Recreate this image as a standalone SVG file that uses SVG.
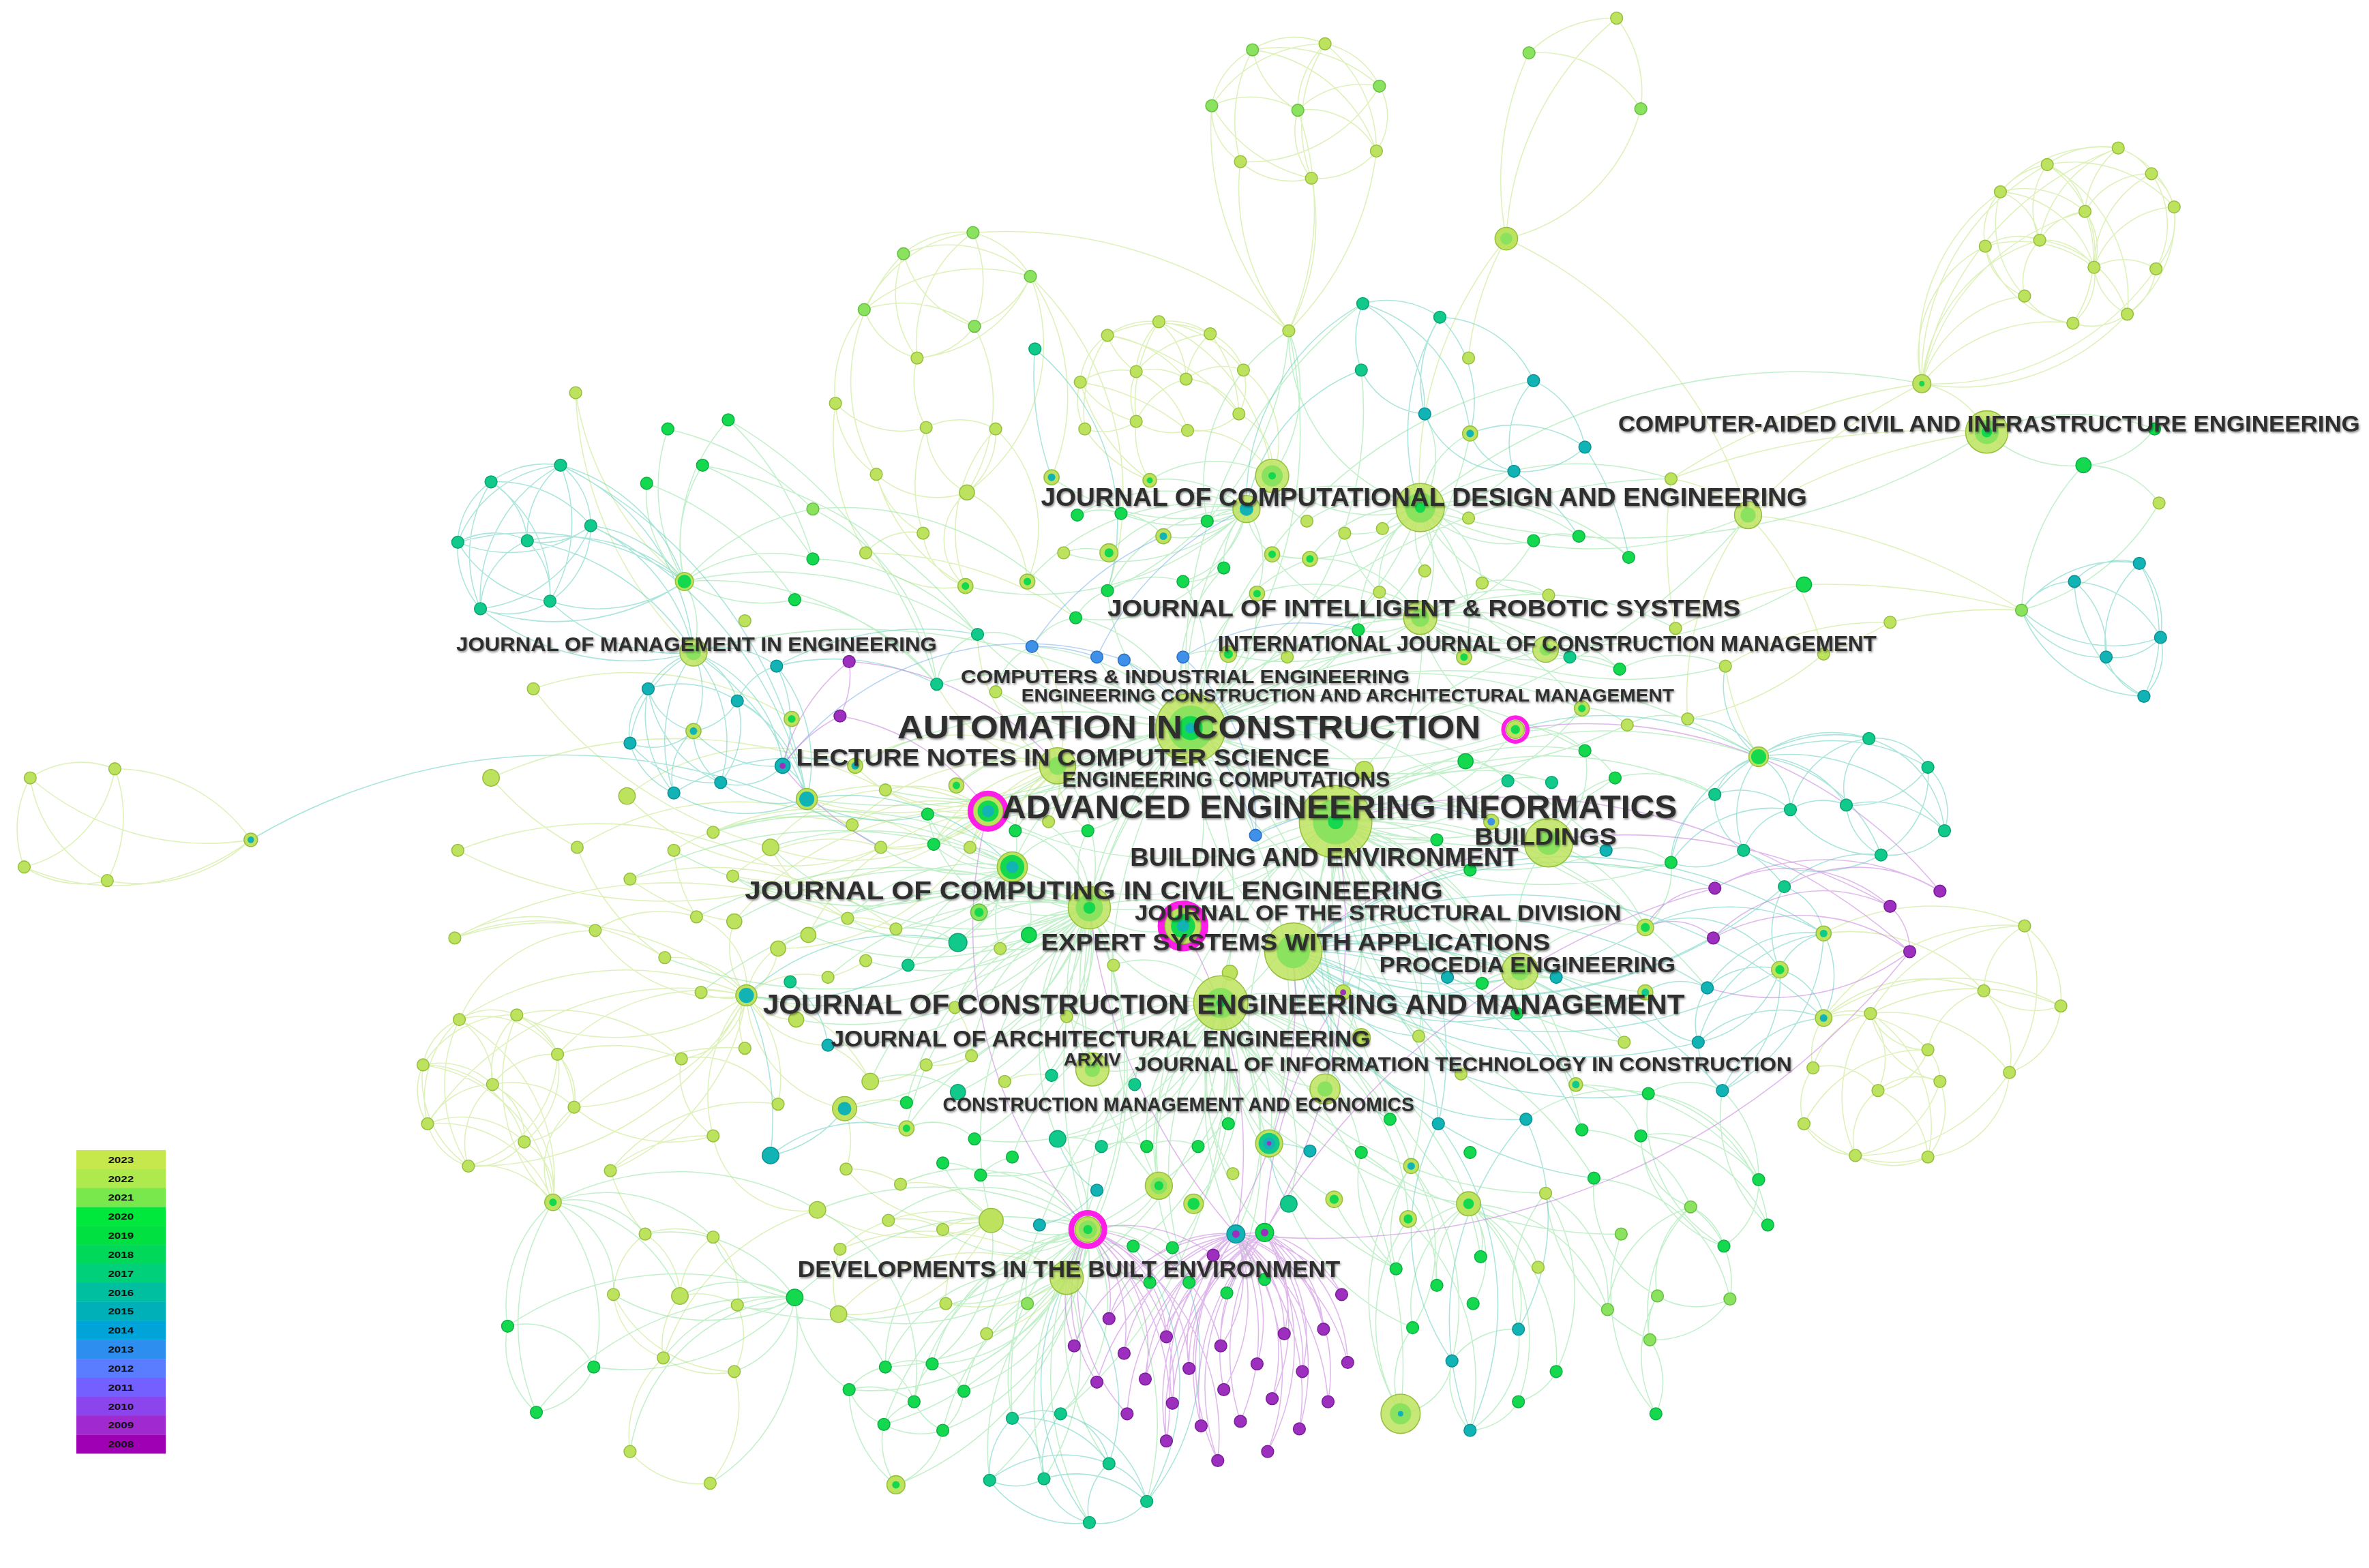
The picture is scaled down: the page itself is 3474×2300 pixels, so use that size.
<svg xmlns="http://www.w3.org/2000/svg" width="3474" height="2300" viewBox="0 0 3474 2300">
<defs>
<filter id="sh" x="-5%" y="-40%" width="110%" height="180%"><feDropShadow dx="0.6" dy="0.9" stdDeviation="0.7" flood-color="#000" flood-opacity="0.45"/></filter>
<style>
.e{fill:none;stroke-width:.7;stroke-opacity:.55}
.ey{stroke:#c3e682}
.eg{stroke:#8fe3a0}
.et{stroke:#66cfc0}
.eb{stroke:#7ab0ea}
.ep{stroke:#c77fdc}
circle{stroke-width:.7}
.y{fill:#bde35e;stroke:#98c03f}
.l{fill:#8ae25e;stroke:#66c042}
.g{fill:#14d94e;stroke:#0db246}
.t{fill:#11c98b;stroke:#0ca574}
.c{fill:#12b3b5;stroke:#0c9295}
.b{fill:#3e90e8;stroke:#2b72c4}
.p{fill:#9c2fbe;stroke:#7b1e99}
.m{fill:none;stroke:#ff1ee8}
.i{stroke:none}
.h{fill-opacity:.85}
.lb{font-family:"Liberation Sans",Arial,sans-serif;font-weight:bold;fill:#2e2e2e;filter:url(#sh)}
.lg{font-family:"Liberation Sans",Arial,sans-serif;font-weight:bold;fill:#111;font-size:6px;text-anchor:middle}
</style>
</defs>
<rect width="3474" height="2300" fill="#fff"/>
<g transform="scale(2.2156)">
<g id="edges">
<path class="e ey" d="M20 515A60 60 0 0 1 76 509M20 515A70 70 0 0 0 16 574M20 515A90 90 0 0 0 71 583M76 509A80 80 0 0 1 16 574M76 509A90 90 0 0 1 71 583M76 509A110 110 0 0 1 166 556M16 574A70 70 0 0 0 71 583M20 515A180 180 0 0 0 166 556M16 574A150 150 0 0 0 166 556M71 583A110 110 0 0 0 166 556M381 260A200 200 0 0 0 453 385M381 260A250 250 0 0 0 459 432
M644 154A60 60 0 0 0 598 168M644 154A60 60 0 0 1 682 183M644 154A90 90 0 0 0 572 205M644 154A80 80 0 0 1 645 216M644 154A90 90 0 0 0 607 237M598 168A70 70 0 0 0 645 216M598 168A80 80 0 0 1 682 183M598 168A70 70 0 0 0 607 237M682 183A60 60 0 0 1 645 216M682 183A90 90 0 0 1 607 237M572 205A80 80 0 0 1 645 216M572 205A50 50 0 0 0 607 237M572 205A120 120 0 0 1 682 183M645 216A50 50 0 0 1 607 237M572 205A80 80 0 0 0 553 267M598 168A120 120 0 0 0 580 314M682 183A120 120 0 0 1 640 326M682 183A140 140 0 0 1 696 316M645 216A110 110 0 0 1 640 326M607 237A60 60 0 0 0 613 283M553 267A60 60 0 0 0 613 283M553 267A60 60 0 0 0 580 314M613 283A50 50 0 0 1 659 284M613 283A50 50 0 0 0 640 326M659 284A50 50 0 0 1 640 326M580 314A60 60 0 0 0 640 326M580 314A60 60 0 0 0 611 353M611 353A40 40 0 0 0 639 388M573 366A70 70 0 0 0 639 388M573 366A40 40 0 0 1 611 353M640 326A70 70 0 0 1 680 385M640 326A40 40 0 0 0 639 388M659 284A90 90 0 0 1 680 385M553 267A150 150 0 0 0 573 366M613 283A100 100 0 0 0 611 353M659 284A100 100 0 0 0 639 388M580 314A120 120 0 0 0 639 388M644 154A300 300 0 0 1 853 219M682 183A200 200 0 0 1 733 391M573 366A250 250 0 0 1 712 409
M733 222A50 50 0 0 1 767 213M767 213A50 50 0 0 1 801 221M733 222A80 80 0 0 1 801 221M733 222A40 40 0 0 0 715 253M733 222A50 50 0 0 0 752 246M733 222A80 80 0 0 1 785 251M767 213A50 50 0 0 0 752 246M767 213A50 50 0 0 1 785 251M767 213A80 80 0 0 1 823 245M801 221A40 40 0 0 1 823 245M801 221A50 50 0 0 0 785 251M801 221A70 70 0 0 0 752 246M715 253A50 50 0 0 1 752 246M715 253A40 40 0 0 0 718 284M715 253A60 60 0 0 0 752 279M752 246A40 40 0 0 1 785 251M752 246A40 40 0 0 0 752 279M752 246A60 60 0 0 1 786 285M785 251A40 40 0 0 1 823 245M785 251A40 40 0 0 1 820 274M785 251A50 50 0 0 0 752 279M823 245A40 40 0 0 1 820 274M823 245A60 60 0 0 1 842 315M718 284A40 40 0 0 0 752 279M752 279A40 40 0 0 0 786 285M786 285A40 40 0 0 0 820 274M820 274A40 40 0 0 1 842 315M786 285A60 60 0 0 1 842 315M733 222A90 90 0 0 0 718 284M767 213A100 100 0 0 0 752 279M801 221A90 90 0 0 1 820 274M715 253A120 120 0 0 0 761 318M752 279A60 60 0 0 0 761 318M718 284A90 90 0 0 0 761 318M767 213A130 130 0 0 1 842 315M733 222A150 150 0 0 1 820 274M715 253A150 150 0 0 1 786 285
M829 33A50 50 0 0 1 877 29M829 33A50 50 0 0 0 802 70M829 33A60 60 0 0 0 859 73M829 33A100 100 0 0 0 821 107M829 33A100 100 0 0 1 911 100M829 33A100 100 0 0 1 913 57M877 29A50 50 0 0 1 913 57M877 29A60 60 0 0 0 859 73M877 29A90 90 0 0 0 802 70M877 29A90 90 0 0 1 911 100M877 29A100 100 0 0 0 868 118M913 57A40 40 0 0 1 911 100M913 57A60 60 0 0 0 859 73M913 57A100 100 0 0 1 821 107M802 70A60 60 0 0 1 859 73M802 70A40 40 0 0 0 821 107M802 70A100 100 0 0 0 868 118M859 73A50 50 0 0 1 911 100M859 73A50 50 0 0 0 868 118M821 107A50 50 0 0 0 868 118M911 100A50 50 0 0 1 868 118M802 70A200 200 0 0 0 853 219M821 107A150 150 0 0 0 853 219M868 118A150 150 0 0 1 853 219M911 100A200 200 0 0 1 853 219M859 73A200 200 0 0 1 853 219
M1070 12A80 80 0 0 0 1012 35M1070 12A80 80 0 0 1 1086 72M1012 35A80 80 0 0 1 1086 72M1012 35A200 200 0 0 0 997 158M1070 12A200 200 0 0 0 997 158M1086 72A120 120 0 0 1 997 158M997 158A200 200 0 0 0 972 237M997 158A300 300 0 0 1 1157 341M997 158A250 250 0 0 0 940 336
M1402 98A60 60 0 0 0 1355 109M1402 98A40 40 0 0 1 1424 115M1402 98A60 60 0 0 0 1380 140M1402 98A80 80 0 0 0 1350 159M1402 98A90 90 0 0 0 1324 127M1402 98A60 60 0 0 1 1439 137M1355 109A50 50 0 0 0 1324 127M1355 109A40 40 0 0 1 1380 140M1355 109A50 50 0 0 0 1350 159M1355 109A70 70 0 0 1 1386 177M1355 109A90 90 0 0 1 1439 137M1424 115A40 40 0 0 1 1439 137M1424 115A50 50 0 0 0 1380 140M1424 115A60 60 0 0 1 1427 178M1424 115A70 70 0 0 0 1386 177M1324 127A40 40 0 0 0 1314 163M1324 127A40 40 0 0 1 1350 159M1324 127A60 60 0 0 1 1380 140M1324 127A70 70 0 0 0 1340 196M1439 137A50 50 0 0 1 1427 178M1439 137A60 60 0 0 0 1386 177M1439 137A80 80 0 0 1 1408 208M1380 140A40 40 0 0 0 1350 159M1380 140A40 40 0 0 1 1386 177M1380 140A80 80 0 0 1 1372 214M1314 163A40 40 0 0 1 1350 159M1314 163A40 40 0 0 0 1340 196M1314 163A70 70 0 0 0 1372 214M1350 159A40 40 0 0 1 1386 177M1350 159A40 40 0 0 0 1340 196M1350 159A70 70 0 0 1 1408 208M1386 177A40 40 0 0 1 1427 178M1386 177A40 40 0 0 1 1372 214M1386 177A40 40 0 0 0 1408 208M1427 178A40 40 0 0 1 1408 208M1340 196A40 40 0 0 0 1372 214M1408 208A40 40 0 0 1 1372 214M1314 163A80 80 0 0 1 1386 177M1324 127A70 70 0 0 1 1386 177M1355 109A100 100 0 0 1 1408 208M1272 254A80 80 0 0 1 1314 163M1272 254A80 80 0 0 1 1340 196M1272 254A110 110 0 0 1 1372 214M1272 254A130 130 0 0 1 1324 127M1272 254A110 110 0 0 1 1350 159M1272 254A150 150 0 0 0 1408 208M1272 254A160 160 0 0 1 1355 109M1272 254A150 150 0 0 1 1380 140M1272 254A180 180 0 0 0 1427 178M1272 254A200 200 0 0 1 1402 98
M1315 286A400 400 0 0 0 1157 341M1315 286A500 500 0 0 0 1106 317M1272 254A60 60 0 0 1 1315 286M1272 254A400 400 0 0 0 1106 317M1272 254A400 400 0 0 0 1157 341M1338 404A400 400 0 0 0 1157 341M1338 404A300 300 0 0 0 1251 412M1338 404A500 500 0 0 0 1194 387M1194 387A300 300 0 0 0 1109 416M1251 412A200 200 0 0 0 1142 441M1251 412A300 300 0 0 1 1207 433M1207 433A200 200 0 0 1 1117 476M1142 441A150 150 0 0 0 1164 501M1106 317A300 300 0 0 0 1109 416M1157 341A200 200 0 0 1 1207 433M1157 341A200 200 0 0 0 1117 476M1106 317A100 100 0 0 1 1157 341
M1340 613A50 50 0 0 0 1313 656M1340 613A60 60 0 0 1 1364 666M1340 613A100 100 0 0 1 1330 710M1340 613A150 150 0 0 0 1207 674M1340 613A120 120 0 0 0 1238 671M1313 656A50 50 0 0 0 1364 666M1313 656A60 60 0 0 1 1330 710M1313 656A50 50 0 0 0 1276 695M1364 666A50 50 0 0 1 1330 710M1364 666A150 150 0 0 0 1238 671M1238 671A40 40 0 0 0 1276 695M1238 671A60 60 0 0 0 1284 716M1238 671A50 50 0 0 0 1200 707M1238 671A50 50 0 0 1 1243 722M1238 671A90 90 0 0 0 1228 765M1238 671A90 90 0 0 1 1276 766M1276 695A30 30 0 0 1 1284 716M1276 695A90 90 0 0 0 1194 744M1276 695A40 40 0 0 1 1243 722M1284 716A50 50 0 0 1 1276 766M1284 716A40 40 0 0 0 1243 722M1284 716A70 70 0 0 1 1228 765M1200 707A40 40 0 0 0 1194 744M1200 707A40 40 0 0 1 1243 722M1194 744A40 40 0 0 0 1228 765M1194 744A80 80 0 0 0 1276 766M1243 722A40 40 0 0 0 1228 765M1228 765A50 50 0 0 0 1276 766M1243 722A50 50 0 0 1 1276 766M1207 674A40 40 0 0 1 1238 671M1207 674A40 40 0 0 0 1200 707M1207 674A70 70 0 0 1 1276 695M1207 674A100 100 0 0 1 1313 656M1207 674A150 150 0 0 1 1364 666M1330 710A120 120 0 0 1 1228 765M1330 710A60 60 0 0 1 1276 766M1238 671A100 100 0 0 1 1330 710M1207 618A120 120 0 0 1 1313 656M1207 618A150 150 0 0 1 1340 613
M304 675A40 40 0 0 1 342 672M304 675A60 60 0 0 1 369 698M304 675A40 40 0 0 0 280 705M304 675A50 50 0 0 1 326 718M304 675A70 70 0 0 0 283 744M342 672A40 40 0 0 1 369 698M342 672A50 50 0 0 0 326 718M342 672A70 70 0 0 1 380 733M342 672A70 70 0 0 0 280 705M369 698A50 50 0 0 0 326 718M369 698A40 40 0 0 1 380 733M369 698A60 60 0 0 1 347 756M280 705A50 50 0 0 1 326 718M280 705A40 40 0 0 0 283 744M280 705A70 70 0 0 0 310 772M326 718A50 50 0 0 0 283 744M326 718A60 60 0 0 1 380 733M326 718A40 40 0 0 1 347 756M326 718A50 50 0 0 0 310 772M283 744A40 40 0 0 0 310 772M283 744A60 60 0 0 1 347 756M347 756A40 40 0 0 1 310 772M380 733A40 40 0 0 1 347 756M369 698A80 80 0 0 1 310 772M304 675A100 100 0 0 0 310 772M280 705A70 70 0 0 1 347 756M366 796A120 120 0 0 0 304 675M366 796A110 110 0 0 1 342 672M366 796A100 100 0 0 0 280 705M366 796A80 80 0 0 0 283 744M366 796A60 60 0 0 0 310 772M366 796A40 40 0 0 0 347 756M366 796A80 80 0 0 0 326 718M366 796A50 50 0 0 1 380 733
M494 659A200 200 0 0 0 304 675M494 659A150 150 0 0 1 342 672M494 659A130 130 0 0 0 369 698M494 659A130 130 0 0 1 380 733M494 659A200 200 0 0 0 301 621M494 659A100 100 0 0 1 394 616M494 659A50 50 0 0 0 461 607M494 659A50 50 0 0 1 486 610M494 659A40 40 0 0 0 515 628M494 659A50 50 0 0 1 535 619M494 659A60 60 0 0 0 440 634M494 659A40 40 0 0 1 464 657M494 659A40 40 0 0 0 527 675M494 659A50 50 0 0 1 451 701M494 659A40 40 0 0 0 493 694M494 659A80 80 0 0 1 515 731M494 659A100 100 0 0 0 472 752M494 659A150 150 0 0 1 404 775M494 659A200 200 0 0 1 310 772M494 659A200 200 0 0 0 283 744M494 659A60 60 0 0 1 548 647M494 659A60 60 0 0 0 548 692M494 659A100 100 0 0 1 576 716M494 659A80 80 0 0 0 559 734M301 621A100 100 0 0 1 394 616M394 616A80 80 0 0 1 461 607M301 621A150 150 0 0 1 440 634M304 675A100 100 0 0 1 394 616M342 672A120 120 0 0 1 451 701M369 698A120 120 0 0 1 451 701M380 733A100 100 0 0 0 472 752M404 775A100 100 0 0 1 472 752M404 775A120 120 0 0 1 515 731M380 733A150 150 0 0 1 493 694M451 701A50 50 0 0 0 472 752M451 701A60 60 0 0 1 515 731M472 752A60 60 0 0 0 541 801M404 775A120 120 0 0 0 427 817M427 817A50 50 0 0 0 406 857M427 817A50 50 0 0 1 450 858M472 819A50 50 0 0 0 450 858M472 819A50 50 0 0 1 488 864M406 857A50 50 0 0 0 439 899M406 857A90 90 0 0 0 486 908M450 858A50 50 0 0 0 439 899M450 858A50 50 0 0 1 488 864M488 864A50 50 0 0 1 486 908M439 899A60 60 0 0 0 486 908M439 899A70 70 0 0 0 417 961M486 908A80 80 0 0 1 470 982M417 961A60 60 0 0 0 470 982M427 817A60 60 0 0 1 472 819M541 801A150 150 0 0 0 439 899M301 621A300 300 0 0 1 561 608
M325 515A300 300 0 0 1 586 523M325 515A200 200 0 0 0 382 561M415 527A150 150 0 0 1 566 507M415 527A150 150 0 0 0 583 561M382 561A200 200 0 0 1 564 546M303 563A250 250 0 0 1 561 608M303 563A300 300 0 0 0 583 561M446 563A150 150 0 0 1 564 546M417 582A200 200 0 0 1 593 615M485 580A100 100 0 0 1 583 561M510 561A100 100 0 0 1 586 523M510 561A100 100 0 0 0 593 615M472 551A150 150 0 0 1 618 559M353 456A200 200 0 0 1 524 476M353 456A300 300 0 0 0 510 561M417 582A150 150 0 0 0 486 610M446 563A100 100 0 0 0 461 607M382 561A150 150 0 0 0 440 634
M700 507A60 60 0 0 0 633 520M700 507A100 100 0 0 1 586 523M700 507A120 120 0 0 0 566 507M700 507A100 100 0 0 1 620 453M700 507A60 60 0 0 0 659 458M700 507A100 100 0 0 1 647 420M700 507A80 80 0 0 0 683 428M700 507A80 80 0 0 1 614 539M700 507A50 50 0 0 0 672 550M700 507A50 50 0 0 1 694 544M700 507A50 50 0 0 0 720 550M700 507A100 100 0 0 0 618 559M700 507A150 150 0 0 1 583 561M700 507A80 80 0 0 0 642 561M700 507A200 200 0 0 1 534 529M700 507A150 150 0 0 0 564 546M654 537A80 80 0 0 0 586 523M654 537A100 100 0 0 1 566 507M654 537A100 100 0 0 0 564 546M654 537A80 80 0 0 1 583 561M654 537A50 50 0 0 0 618 559M654 537A50 50 0 0 1 642 561M654 537A150 150 0 0 0 534 529M654 537A150 150 0 0 1 510 561M654 537A200 200 0 0 1 485 580M654 537A150 150 0 0 0 535 619M654 537A150 150 0 0 1 515 628M654 537A200 200 0 0 0 486 610
M656 808A100 100 0 0 0 556 827M656 808A100 100 0 0 1 560 774M656 808A60 60 0 0 0 596 784M656 808A60 60 0 0 1 588 808M656 808A40 40 0 0 0 624 814M656 808A100 100 0 0 1 555 870M656 808A60 60 0 0 0 626 863M656 808A120 120 0 0 1 541 801M706 846A120 120 0 0 0 555 870M706 846A100 100 0 0 1 626 863M706 846A150 150 0 0 0 556 827M706 846A80 80 0 0 1 653 883M559 734A60 60 0 0 1 600 730M559 734A60 60 0 0 0 600 747M559 734A60 60 0 0 1 560 774M576 716A60 60 0 0 0 613 705M548 692A60 60 0 0 1 576 716M548 647A80 80 0 0 0 573 636M561 608A50 50 0 0 1 593 615M632 667A50 50 0 0 1 643 699M613 705A50 50 0 0 0 643 699M665 716A50 50 0 0 1 696 712M560 774A60 60 0 0 1 596 784M588 808A50 50 0 0 1 624 814M556 827A60 60 0 0 0 555 870"/>
<path class="e eg" d="M442 284A120 120 0 0 0 453 385M482 278A120 120 0 0 0 453 385M465 308A100 100 0 0 0 453 385M428 320A80 80 0 0 0 453 385M482 278A200 200 0 0 1 538 370M442 284A200 200 0 0 1 538 337M465 308A150 150 0 0 1 538 370M428 320A200 200 0 0 1 526 397M482 278A300 300 0 0 1 620 453M465 308A300 300 0 0 1 647 420M453 385A150 150 0 0 1 538 337M453 385A100 100 0 0 1 538 370M453 385A100 100 0 0 0 526 397M453 385A200 200 0 0 1 620 453M453 385A250 250 0 0 1 647 420M538 337A150 150 0 0 1 620 453M538 370A150 150 0 0 1 647 420M526 397A150 150 0 0 1 620 453M538 337A200 200 0 0 1 712 409M453 385A60 60 0 0 1 459 432
M788 482A300 300 0 0 0 654 537M788 482A150 150 0 0 1 700 507M788 482A200 200 0 0 1 884 544M788 482A300 300 0 0 0 1025 558M788 482A200 200 0 0 1 940 409M788 482A250 250 0 0 0 940 336M788 482A200 200 0 0 1 842 315M788 482A200 200 0 0 0 721 601M788 482A200 200 0 0 1 783 613M788 482A200 200 0 0 0 856 630M788 482A250 250 0 0 1 808 664M788 482A300 300 0 0 0 1003 483M788 482A300 300 0 0 1 1023 430M788 482A80 80 0 0 0 813 433M788 482A100 100 0 0 1 852 435M788 482A150 150 0 0 0 899 417M788 482A100 100 0 0 1 726 435M788 482A80 80 0 0 0 744 437M788 482A80 80 0 0 1 783 435M788 482A150 150 0 0 0 683 428M788 482A200 200 0 0 1 647 420M788 482A200 200 0 0 0 620 453M788 482A150 150 0 0 1 659 458M788 482A200 200 0 0 0 633 520M788 482A250 250 0 0 1 586 523M788 482A300 300 0 0 0 566 507M788 482A400 400 0 0 1 534 529M788 482A400 400 0 0 0 459 432M788 482A300 300 0 0 1 1049 497M788 482A200 200 0 0 0 970 504M788 482A300 300 0 0 1 1047 469M788 482A350 350 0 0 0 1077 480M788 482A350 350 0 0 1 1072 443M788 482A100 100 0 0 0 712 409M788 482A120 120 0 0 1 733 391M788 482A100 100 0 0 0 783 385M788 482A100 100 0 0 1 810 376M788 482A100 100 0 0 0 832 393M788 482A120 120 0 0 1 867 370M788 482A150 150 0 0 0 672 550M788 482A100 100 0 0 1 720 550M788 482A150 150 0 0 0 670 574M788 482A200 200 0 0 1 614 539M788 482A400 400 0 0 0 1157 341M788 482A400 400 0 0 1 1106 317M788 482A250 250 0 0 0 973 287M788 482A300 300 0 0 1 1015 252M788 482A250 250 0 0 0 901 245M788 482A300 300 0 0 1 902 201M788 482A300 300 0 0 0 853 219M788 482A400 400 0 0 1 1164 501M788 482A250 250 0 0 0 723 708M788 482A250 250 0 0 1 877 721M788 482A300 300 0 0 0 767 785M788 482A300 300 0 0 1 840 757M788 482A350 350 0 0 0 720 814M788 482A300 300 0 0 1 1063 563M788 482A300 300 0 0 0 1006 643M788 482A200 200 0 0 1 987 544M788 482A200 200 0 0 0 951 556M788 482A120 120 0 0 1 903 510
M884 544A250 250 0 0 1 654 537M884 544A200 200 0 0 0 700 507M884 544A150 150 0 0 1 1025 558M884 544A150 150 0 0 0 1003 483M884 544A100 100 0 0 1 970 504M884 544A120 120 0 0 0 998 517M884 544A150 150 0 0 1 1027 518M884 544A200 200 0 0 0 1069 515M884 544A200 200 0 0 1 1049 497M884 544A200 200 0 0 0 1063 563M884 544A100 100 0 0 1 973 576M884 544A80 80 0 0 0 951 556M884 544A100 100 0 0 1 987 544M884 544A60 60 0 0 0 831 553M884 544A200 200 0 0 1 721 601M884 544A120 120 0 0 0 783 613M884 544A100 100 0 0 1 856 630M884 544A150 150 0 0 0 808 664M884 544A100 100 0 0 1 889 657M884 544A120 120 0 0 0 958 647M884 544A120 120 0 0 1 981 651M884 544A150 150 0 0 0 1030 647M884 544A150 150 0 0 1 1004 671M884 544A150 150 0 0 0 901 687M884 544A150 150 0 0 1 939 686M884 544A250 250 0 0 0 1075 690M884 544A200 200 0 0 1 877 721M884 544A200 200 0 0 0 967 711M884 544A250 250 0 0 1 1043 718M884 544A200 200 0 0 0 920 741M884 544A250 250 0 0 0 1010 741M884 544A300 300 0 0 1 1047 748M884 544A200 200 0 0 0 840 757M884 544A250 250 0 0 1 934 772M884 544A300 300 0 0 0 972 797M884 544A250 250 0 0 1 1089 614M884 544A300 300 0 0 0 1089 657M884 544A300 300 0 0 1 1130 654M884 544A300 300 0 0 1 1164 501M884 544A250 250 0 0 0 1106 571M884 544A250 250 0 0 1 1135 526M884 544A150 150 0 0 0 940 409M884 544A200 200 0 0 1 1023 430M884 544A200 200 0 0 0 1047 469M884 544A200 200 0 0 1 670 574M884 544A250 250 0 0 0 618 559M884 544A200 200 0 0 1 723 708M884 544A250 250 0 0 0 767 785M884 544A300 300 0 0 1 720 814
M721 601A60 60 0 0 0 654 537M721 601A50 50 0 0 1 670 574M721 601A60 60 0 0 0 648 604M721 601A150 150 0 0 1 561 608M721 601A120 120 0 0 0 593 615M721 601A50 50 0 0 1 681 619M721 601A80 80 0 0 0 634 624M721 601A150 150 0 0 1 573 636M721 601A120 120 0 0 0 601 639M721 601A60 60 0 0 1 662 628M721 601A200 200 0 0 0 548 647M721 601A50 50 0 0 1 737 639M721 601A100 100 0 0 0 632 667M721 601A200 200 0 0 1 548 692M721 601A200 200 0 0 0 576 716M721 601A150 150 0 0 1 613 705M721 601A120 120 0 0 0 643 699M721 601A120 120 0 0 1 665 716M721 601A100 100 0 0 0 696 712M721 601A80 80 0 0 1 706 673M721 601A100 100 0 0 0 723 708M721 601A200 200 0 0 1 559 734M721 601A180 180 0 0 0 600 730M721 601A150 150 0 0 1 634 723M721 601A200 200 0 0 0 600 747M721 601A150 150 0 0 1 645 754M721 601A150 150 0 0 0 700 754M721 601A250 250 0 0 1 494 659M721 601A250 250 0 0 0 515 628M721 601A200 200 0 0 1 535 619M721 601A250 250 0 0 0 486 610M721 601A200 200 0 0 1 527 675M721 601A300 300 0 0 0 464 657M721 601A300 300 0 0 1 440 634M721 601A300 300 0 0 0 461 607M721 601A200 200 0 0 1 510 561M721 601A250 250 0 0 0 472 551M721 601A250 250 0 0 1 485 580M721 601A100 100 0 0 0 700 507M721 601A80 80 0 0 1 614 539M721 601A60 60 0 0 0 672 550M721 601A50 50 0 0 1 720 550M721 601A100 100 0 0 0 808 664M721 601A150 150 0 0 1 856 630M721 601A60 60 0 0 0 783 613M721 601A250 250 0 0 1 720 814M721 601A200 200 0 0 0 656 808M721 601A250 250 0 0 1 706 846M721 601A200 200 0 0 0 767 785
M808 664A80 80 0 0 1 723 708M808 664A60 60 0 0 0 751 718M808 664A100 100 0 0 1 729 759M808 664A100 100 0 0 0 759 759M808 664A100 100 0 0 1 793 759M808 664A80 80 0 0 0 813 744M808 664A100 100 0 0 1 840 757M808 664A100 100 0 0 0 867 762M808 664A120 120 0 0 1 901 763M808 664A80 80 0 0 0 877 721M808 664A80 80 0 0 1 901 687M808 664A80 80 0 0 0 889 657M808 664A60 60 0 0 1 814 644M808 664A60 60 0 0 0 737 639M808 664A80 80 0 0 1 706 673M808 664A120 120 0 0 0 696 712M808 664A120 120 0 0 1 700 754M808 664A120 120 0 0 0 767 785M808 664A120 120 0 0 1 790 797M808 664A120 120 0 0 0 816 777M808 664A120 120 0 0 1 853 797M808 664A150 150 0 0 0 883 794M808 664A150 150 0 0 1 934 772M808 664A200 200 0 0 0 972 797M808 664A150 150 0 0 1 932 807M808 664A150 150 0 0 0 720 814M808 664A150 150 0 0 1 818 817M808 664A150 150 0 0 0 837 816M808 664A150 150 0 0 1 750 825M808 664A150 150 0 0 0 776 826M808 664A200 200 0 0 1 761 849M808 664A200 200 0 0 0 787 849M808 664A200 200 0 0 1 812 856M808 664A200 200 0 0 0 837 847M808 664A200 200 0 0 1 706 846M808 664A250 250 0 0 0 1023 790M808 664A250 250 0 0 1 1055 780M808 664A300 300 0 0 0 1073 817M808 664A200 200 0 0 1 980 832M808 664A200 200 0 0 0 924 840M808 664A300 300 0 0 1 927 936M808 664A300 300 0 0 0 670 939M808 664A300 300 0 0 1 702 936M808 664A200 200 0 0 0 600 747M808 664A150 150 0 0 1 645 754M808 664A150 150 0 0 0 670 766M808 664A150 150 0 0 1 649 778
M670 574A60 60 0 0 1 618 559M670 574A40 40 0 0 0 642 561M670 574A100 100 0 0 1 583 561M670 574A120 120 0 0 0 561 608M670 574A100 100 0 0 1 593 615M670 574A100 100 0 0 0 601 639M670 574A80 80 0 0 1 634 624M670 574A50 50 0 0 0 648 604M670 574A50 50 0 0 1 681 619M670 574A60 60 0 0 0 662 628M670 574A60 60 0 0 1 614 539M670 574A40 40 0 0 0 672 550M670 574A60 60 0 0 1 720 550M670 574A200 200 0 0 0 510 561M670 574A200 200 0 0 1 485 580M670 574A300 300 0 0 0 417 582M670 574A250 250 0 0 1 446 563M670 574A250 250 0 0 0 472 551
M940 336A80 80 0 0 0 865 345M940 336A60 60 0 0 1 890 353M940 336A40 40 0 0 0 915 350M940 336A40 40 0 0 1 972 343M940 336A50 50 0 0 0 943 378M940 336A60 60 0 0 1 981 386M940 336A80 80 0 0 0 1015 358M940 336A120 120 0 0 1 1045 355M940 336A60 60 0 0 0 913 392M940 336A80 80 0 0 1 940 409M940 336A100 100 0 0 0 1025 394M940 336A100 100 0 0 1 842 315M940 336A120 120 0 0 0 825 337M940 336A100 100 0 0 1 842 367M940 336A80 80 0 0 0 867 370M940 336A120 120 0 0 1 853 219M940 336A80 80 0 0 0 1002 312M940 336A60 60 0 0 1 973 287M940 336A60 60 0 0 0 943 274M940 336A150 150 0 0 1 1078 369M940 336A100 100 0 0 0 899 417M940 336A100 100 0 0 1 969 435M940 336A120 120 0 0 0 1023 430M940 336A200 200 0 0 1 1106 317M940 336A250 250 0 0 0 1157 341M940 336A400 400 0 0 1 1272 254M940 336A450 450 0 0 0 1315 286
M940 409A100 100 0 0 0 852 435M940 409A50 50 0 0 1 899 417M940 409A40 40 0 0 0 969 435M940 409A100 100 0 0 1 1023 430M940 409A120 120 0 0 0 1039 435M940 409A150 150 0 0 1 1072 443M940 409A40 40 0 0 0 913 392M940 409A40 40 0 0 1 943 378M940 409A50 50 0 0 0 981 386M940 409A100 100 0 0 1 1025 394M940 409A100 100 0 0 0 1015 358M940 409A80 80 0 0 1 890 353M940 409A80 80 0 0 0 867 370M940 409A100 100 0 0 1 842 367M940 409A120 120 0 0 0 832 393M940 409A150 150 0 0 1 813 433M940 409A100 100 0 0 0 1003 483M940 409A150 150 0 0 1 1047 469M940 409A300 300 0 0 0 1194 387M940 409A200 200 0 0 1 1109 416M940 409A250 250 0 0 0 1142 441
M825 337A120 120 0 0 0 713 341M825 337A100 100 0 0 1 742 340M825 337A40 40 0 0 0 799 345M825 337A60 60 0 0 1 770 355M825 337A100 100 0 0 0 734 366M825 337A120 120 0 0 1 704 366M825 337A50 50 0 0 0 810 376M825 337A60 60 0 0 1 783 385M825 337A100 100 0 0 0 733 391M825 337A60 60 0 0 1 832 393M825 337A40 40 0 0 0 842 367M825 337A100 100 0 0 1 712 409M825 337A80 80 0 0 0 761 318M825 337A150 150 0 0 1 696 316M825 337A150 150 0 0 0 680 385M825 337A200 200 0 0 1 639 388M842 315A80 80 0 0 0 761 318M842 315A40 40 0 0 1 799 345M842 315A40 40 0 0 0 865 345M853 219A100 100 0 0 1 842 315M853 219A120 120 0 0 0 799 345M853 219A200 200 0 0 1 733 391
M713 341A40 40 0 0 1 742 340M742 340A40 40 0 0 1 770 355M704 366A40 40 0 0 1 734 366M733 391A60 60 0 0 1 783 385M712 409A40 40 0 0 1 733 391M810 376A40 40 0 0 1 783 385M647 420A40 40 0 0 1 683 428M683 428A40 40 0 0 1 712 409M620 453A40 40 0 0 1 647 420M659 458A40 40 0 0 1 683 428M783 435A40 40 0 0 1 813 433M813 433A40 40 0 0 1 852 435M852 435A50 50 0 0 1 899 417M899 417A40 40 0 0 1 913 392M1015 358A40 40 0 0 1 1045 355M1045 355A40 40 0 0 1 1078 369M981 386A50 50 0 0 1 1025 394M1023 430A40 40 0 0 1 1039 435M1039 435A40 40 0 0 1 1072 443M1047 469A40 40 0 0 1 1077 480M1049 497A40 40 0 0 1 1069 515M998 517A40 40 0 0 1 1027 518M970 504A40 40 0 0 1 998 517M1003 483A50 50 0 0 1 1049 497M1003 483A50 50 0 0 0 1047 469M1025 558A50 50 0 0 1 1063 563M1025 558A50 50 0 0 0 973 576M1025 558A40 40 0 0 1 987 544M1025 558A60 60 0 0 0 1049 497M1025 558A60 60 0 0 1 1069 515M1025 558A100 100 0 0 0 1106 571M1025 558A100 100 0 0 1 1089 614M1025 558A100 100 0 0 0 1006 643M1006 643A50 50 0 0 1 958 647M1006 643A40 40 0 0 0 1030 647M1006 643A40 40 0 0 1 1004 671M1006 643A40 40 0 0 0 981 651M1006 643A80 80 0 0 1 1089 614M1006 643A80 80 0 0 0 1089 657M1006 643A90 90 0 0 1 1075 690M1072 443A80 80 0 0 1 1142 441M1077 480A50 50 0 0 1 1117 476M1069 515A80 80 0 0 1 1135 526M1063 563A50 50 0 0 1 1106 571M1106 571A50 50 0 0 1 1089 614
M1315 286A150 150 0 0 1 1426 284M1315 286A80 80 0 0 0 1379 308M1379 308A60 60 0 0 1 1429 333M1379 308A60 60 0 0 0 1426 284M1379 308A150 150 0 0 0 1338 404M1429 333A150 150 0 0 1 1338 404
M720 814A100 100 0 0 0 596 784M720 814A80 80 0 0 1 624 770M720 814A60 60 0 0 0 649 778M720 814A50 50 0 0 1 656 808M720 814A30 30 0 0 0 688 811M720 814A80 80 0 0 1 624 814M720 814A100 100 0 0 0 588 808M720 814A100 100 0 0 1 626 863M720 814A40 40 0 0 0 680 863M720 814A30 30 0 0 1 706 846M720 814A80 80 0 0 0 653 883M720 814A150 150 0 0 1 586 905M720 814A120 120 0 0 0 617 903M720 814A150 150 0 0 1 562 920M720 814A150 150 0 0 0 605 928M720 814A120 120 0 0 1 638 921M720 814A200 200 0 0 0 585 943M720 814A150 150 0 0 1 624 947M720 814A120 120 0 0 0 670 939M720 814A100 100 0 0 1 702 936M720 814A150 150 0 0 0 734 969M720 814A200 200 0 0 1 655 980M720 814A200 200 0 0 0 691 979M720 814A200 200 0 0 1 759 994M720 814A200 200 0 0 0 721 1008M720 814A200 200 0 0 1 593 983M720 814A40 40 0 0 0 750 825M720 814A60 60 0 0 1 776 826M720 814A50 50 0 0 0 761 849M720 814A80 80 0 0 1 787 849M720 814A200 200 0 0 0 526 859M720 814A250 250 0 0 1 488 864M720 814A200 200 0 0 0 541 801M720 814A150 150 0 0 1 555 870M720 814A50 50 0 0 0 767 785M720 814A40 40 0 0 1 726 788M720 814A80 80 0 0 0 700 754M706 846A100 100 0 0 0 586 905M706 846A100 100 0 0 1 617 903M706 846A100 100 0 0 0 638 921M706 846A150 150 0 0 1 562 920M706 846A150 150 0 0 0 624 947M706 846A200 200 0 0 1 585 943M706 846A150 150 0 0 0 655 980M706 846A150 150 0 0 1 691 979
M600 747A40 40 0 0 1 645 754M700 754A40 40 0 0 1 729 759M729 759A40 40 0 0 1 759 759M759 759A40 40 0 0 1 793 759M624 770A40 40 0 0 1 649 778M649 778A40 40 0 0 1 670 766M593 615A60 60 0 0 1 634 624M601 639A50 50 0 0 0 634 624M576 716A60 60 0 0 1 634 723
M586 905A40 40 0 0 1 617 903M586 905A40 40 0 0 0 562 920M586 905A40 40 0 0 1 605 928M617 903A40 40 0 0 1 638 921M617 903A40 40 0 0 0 605 928M562 920A40 40 0 0 0 585 943M605 928A40 40 0 0 0 624 947M638 921A40 40 0 0 1 624 947M585 943A50 50 0 0 0 624 947M562 920A50 50 0 0 1 605 928M605 928A40 40 0 0 0 585 943M585 943A50 50 0 0 0 593 983M624 947A50 50 0 0 1 593 983M562 920A80 80 0 0 0 593 983M656 808A100 100 0 0 0 586 905M656 808A100 100 0 0 1 617 903M526 859A80 80 0 0 1 586 905M526 859A80 80 0 0 0 562 920M541 801A120 120 0 0 1 605 928
M366 796A90 90 0 0 0 336 878M366 796A120 120 0 0 1 393 905M366 796A150 150 0 0 0 355 935M366 796A60 60 0 0 1 406 857M366 796A100 100 0 0 1 450 858M366 796A60 60 0 0 1 427 817M366 796A100 100 0 0 1 472 819M366 796A180 180 0 0 1 541 801M526 859A200 200 0 0 0 336 878M526 859A150 150 0 0 1 393 905M526 859A200 200 0 0 0 355 935M526 859A120 120 0 0 1 406 857M526 859A100 100 0 0 0 439 899M526 859A60 60 0 0 1 486 908M526 859A120 120 0 0 0 417 961M526 859A120 120 0 0 1 470 982M526 859A80 80 0 0 0 450 858M526 859A40 40 0 0 1 488 864M526 859A100 100 0 0 0 427 817M526 859A60 60 0 0 1 472 819M336 878A50 50 0 0 1 393 905M336 878A60 60 0 0 0 355 935M393 905A50 50 0 0 1 355 935
M972 797A80 80 0 0 0 935 879M972 797A80 80 0 0 1 1005 880M972 797A120 120 0 0 1 1030 908M972 797A120 120 0 0 1 1005 928M972 797A60 60 0 0 0 951 851M972 797A60 60 0 0 1 975 863M972 797A60 60 0 0 0 924 840M972 797A40 40 0 0 1 980 832M972 797A60 60 0 0 1 1018 839M972 797A100 100 0 0 1 1064 867M934 772A80 80 0 0 0 924 840M934 772A100 100 0 0 1 935 879M934 772A150 150 0 0 1 961 901M934 772A150 150 0 0 0 927 936M901 763A80 80 0 0 0 924 840M901 763A100 100 0 0 1 951 851M1023 790A100 100 0 0 0 1005 880M1023 790A120 120 0 0 1 1030 908M1023 790A80 80 0 0 1 1064 867M932 807A120 120 0 0 0 927 936M932 807A150 150 0 0 1 973 947M1005 880A50 50 0 0 0 961 901M961 901A50 50 0 0 0 973 947M961 901A40 40 0 0 1 927 936M1005 880A70 70 0 0 1 973 947M1030 908A40 40 0 0 1 1005 928M935 879A60 60 0 0 0 927 936M1005 928A40 40 0 0 1 973 947M883 794A100 100 0 0 0 924 840M853 797A150 150 0 0 0 935 879
M1091 724A90 90 0 0 1 1164 781M1091 724A100 100 0 0 1 1170 811M1091 724A100 100 0 0 0 1141 825M1086 752A80 80 0 0 1 1164 781M1086 752A100 100 0 0 1 1170 811M1086 752A80 80 0 0 0 1141 825M1086 752A50 50 0 0 0 1119 799M1119 799A60 60 0 0 0 1097 858M1119 799A60 60 0 0 1 1145 860M1119 799A100 100 0 0 0 1092 887M1097 858A50 50 0 0 0 1145 860M1145 860A60 60 0 0 1 1092 887M1097 858A40 40 0 0 0 1092 887M1119 799A40 40 0 0 1 1141 825M1092 887A50 50 0 0 1 1096 936M1097 858A80 80 0 0 0 1096 936M1164 781A50 50 0 0 1 1141 825M1140 722A50 50 0 0 0 1091 724M1043 718A50 50 0 0 1 1086 752M1043 718A150 150 0 0 1 1164 781M1010 741A100 100 0 0 1 1091 724M1047 748A80 80 0 0 1 1119 799M1055 780A80 80 0 0 0 1097 858M1055 780A100 100 0 0 1 1145 860M1023 790A120 120 0 0 0 1092 887M1073 817A120 120 0 0 0 1096 936M1064 867A80 80 0 0 1 1119 799M1140 722A80 80 0 0 1 1164 781M1140 722A100 100 0 0 0 1170 811"/>
<path class="e et" d="M166 556A400 400 0 0 1 583 561
M371 308A60 60 0 0 0 325 319M371 308A50 50 0 0 1 391 348M371 308A60 60 0 0 0 349 358M371 308A80 80 0 0 0 303 359M371 308A100 100 0 0 1 364 398M371 308A100 100 0 0 0 318 403M325 319A80 80 0 0 1 391 348M325 319A50 50 0 0 1 349 358M325 319A50 50 0 0 0 303 359M325 319A90 90 0 0 1 364 398M325 319A90 90 0 0 0 318 403M391 348A50 50 0 0 1 349 358M391 348A90 90 0 0 1 303 359M391 348A60 60 0 0 1 364 398M391 348A90 90 0 0 1 318 403M349 358A50 50 0 0 0 303 359M349 358A50 50 0 0 1 364 398M349 358A50 50 0 0 0 318 403M303 359A80 80 0 0 0 364 398M303 359A60 60 0 0 0 318 403M364 398A50 50 0 0 1 318 403M371 308A120 120 0 0 1 453 385M391 348A90 90 0 0 1 453 385M349 358A120 120 0 0 1 453 385M364 398A100 100 0 0 0 453 385M318 403A150 150 0 0 0 453 385M303 359A180 180 0 0 1 453 385M371 308A150 150 0 0 1 459 432M391 348A120 120 0 0 1 459 432M364 398A120 120 0 0 0 459 432M318 403A160 160 0 0 0 459 432M349 358A160 160 0 0 1 459 432M459 432A200 200 0 0 1 534 529M371 308A300 300 0 0 1 534 529M391 348A260 260 0 0 1 534 529
M459 432A60 60 0 0 1 514 441M459 432A50 50 0 0 0 429 456M459 432A50 50 0 0 1 488 464M459 432A60 60 0 0 1 459 484M459 432A80 80 0 0 0 417 492M459 432A90 90 0 0 1 477 518M459 432A100 100 0 0 0 446 525M459 432A90 90 0 0 1 518 507M514 441A40 40 0 0 0 488 464M514 441A100 100 0 0 1 534 529M514 441A80 80 0 0 1 518 507M429 456A40 40 0 0 0 459 484M429 456A40 40 0 0 0 417 492M429 456A70 70 0 0 1 488 464M429 456A80 80 0 0 0 477 518M429 456A80 80 0 0 0 446 525M488 464A40 40 0 0 1 459 484M488 464A50 50 0 0 1 518 507M488 464A60 60 0 0 1 477 518M488 464A90 90 0 0 1 534 529M459 484A40 40 0 0 1 417 492M459 484A40 40 0 0 0 477 518M459 484A40 40 0 0 0 446 525M459 484A70 70 0 0 0 518 507M417 492A50 50 0 0 0 446 525M417 492A70 70 0 0 0 477 518M518 507A30 30 0 0 1 534 529M477 518A40 40 0 0 0 518 507M446 525A90 90 0 0 0 534 529M477 518A60 60 0 0 0 534 529M514 441A150 150 0 0 1 620 453M514 441A200 200 0 0 1 647 420M446 525A150 150 0 0 1 566 507M534 529A100 100 0 0 0 614 539M534 529A150 150 0 0 1 670 574M523 650A60 60 0 0 1 548 692M510 765A80 80 0 0 0 559 734M510 765A100 100 0 0 1 600 747M510 765A200 200 0 0 0 494 659M494 659A150 150 0 0 1 634 624M494 659A150 150 0 0 0 601 639
M902 201A60 60 0 0 1 953 210M902 201A60 60 0 0 0 901 245M902 201A80 80 0 0 1 943 274M902 201A100 100 0 0 1 973 287M953 210A80 80 0 0 0 943 274M953 210A80 80 0 0 1 973 287M953 210A70 70 0 0 1 1015 252M901 245A50 50 0 0 0 943 274M1015 252A60 60 0 0 1 1049 296M1015 252A60 60 0 0 0 1002 312M943 274A60 60 0 0 0 1002 312M973 287A80 80 0 0 1 1049 296M973 287A40 40 0 0 0 1002 312M1049 296A60 60 0 0 1 1002 312M902 201A150 150 0 0 0 825 337M953 210A150 150 0 0 0 940 336M901 245A120 120 0 0 0 825 337M1049 296A200 200 0 0 1 1078 369M1002 312A150 150 0 0 1 1045 355M685 231A150 150 0 0 1 733 391M685 231A200 200 0 0 0 696 316
M1338 404A40 40 0 0 1 1373 385M1338 404A80 80 0 0 1 1416 373M1338 404A90 90 0 0 0 1430 422M1338 404A60 60 0 0 0 1394 435M1338 404A90 90 0 0 0 1419 461M1373 385A60 60 0 0 1 1394 435M1373 385A70 70 0 0 1 1430 422M1373 385A90 90 0 0 0 1419 461M1416 373A60 60 0 0 1 1430 422M1416 373A70 70 0 0 0 1394 435M1416 373A90 90 0 0 1 1419 461M1430 422A40 40 0 0 1 1394 435M1430 422A40 40 0 0 1 1419 461M1394 435A40 40 0 0 0 1419 461M1373 385A40 40 0 0 1 1416 373
M1164 501A80 80 0 0 1 1237 489M1164 501A120 120 0 0 1 1276 508M1164 501A40 40 0 0 0 1135 526M1164 501A40 40 0 0 1 1185 536M1164 501A70 70 0 0 1 1222 533M1164 501A130 130 0 0 1 1287 550M1164 501A60 60 0 0 0 1154 563M1164 501A100 100 0 0 1 1245 566M1164 501A90 90 0 0 0 1106 571M1164 501A60 60 0 0 1 1142 441M1164 501A50 50 0 0 0 1117 476M1237 489A40 40 0 0 1 1276 508M1237 489A40 40 0 0 0 1222 533M1237 489A70 70 0 0 1 1287 550M1237 489A60 60 0 0 0 1185 536M1276 508A60 60 0 0 1 1222 533M1276 508A40 40 0 0 1 1287 550M1276 508A60 60 0 0 1 1245 566M1135 526A50 50 0 0 1 1185 536M1135 526A40 40 0 0 0 1154 563M1135 526A50 50 0 0 0 1106 571M1185 536A40 40 0 0 1 1222 533M1185 536A40 40 0 0 0 1154 563M1185 536A70 70 0 0 0 1245 566M1222 533A40 40 0 0 0 1245 566M1222 533A70 70 0 0 1 1287 550M1287 550A50 50 0 0 1 1245 566M1154 563A90 90 0 0 0 1245 566M1154 563A50 50 0 0 1 1106 571M1185 536A80 80 0 0 0 1106 571M1237 489A100 100 0 0 0 1135 526M1164 501A200 200 0 0 0 1003 483M1181 587A80 80 0 0 0 1154 563M1181 587A80 80 0 0 1 1245 566
M1207 618A40 40 0 0 0 1178 642M1207 618A80 80 0 0 0 1130 654M1207 618A100 100 0 0 0 1124 690M1207 618A120 120 0 0 1 1140 722M1207 618A120 120 0 0 0 1089 614M1178 642A50 50 0 0 0 1130 654M1178 642A70 70 0 0 1 1124 690M1178 642A90 90 0 0 1 1140 722M1178 642A40 40 0 0 1 1207 674M1130 654A40 40 0 0 0 1124 690M1124 690A40 40 0 0 0 1140 722M1089 657A40 40 0 0 1 1130 654M1089 657A40 40 0 0 0 1124 690M1140 722A80 80 0 0 1 1207 674M1181 587A40 40 0 0 1 1207 618M1181 587A60 60 0 0 0 1178 642M1207 674A80 80 0 0 0 1124 690M1089 614A70 70 0 0 1 1178 642M1207 618A60 60 0 0 1 1207 674
M856 630A100 100 0 0 1 958 647M856 630A120 120 0 0 0 981 651M856 630A200 200 0 0 1 1030 647M856 630A150 150 0 0 0 1004 671M856 630A250 250 0 0 1 1075 690M856 630A250 250 0 0 0 1089 614M856 630A300 300 0 0 1 1135 588M856 630A300 300 0 0 0 1181 587M856 630A300 300 0 0 0 1134 621M856 630A300 300 0 0 1 1207 618M856 630A300 300 0 0 0 1178 642M856 630A300 300 0 0 1 1130 654M856 630A250 250 0 0 0 1089 657M856 630A300 300 0 0 1 1207 674M856 630A300 300 0 0 0 1124 690M856 630A300 300 0 0 1 1140 722M856 630A250 250 0 0 0 1091 724M856 630A200 200 0 0 1 1043 718M856 630A150 150 0 0 0 1010 741M856 630A200 200 0 0 1 1047 748M856 630A250 250 0 0 0 1055 780M856 630A150 150 0 0 1 967 711M856 630A100 100 0 0 0 939 686M856 630A100 100 0 0 1 877 721M856 630A120 120 0 0 0 920 741M856 630A120 120 0 0 1 952 744M884 544A200 200 0 0 1 952 744
M670 939A40 40 0 0 1 702 936M670 939A50 50 0 0 0 655 980M670 939A50 50 0 0 1 691 979M670 939A70 70 0 0 1 734 969M702 936A40 40 0 0 1 734 969M702 936A50 50 0 0 0 691 979M702 936A80 80 0 0 1 759 994M734 969A40 40 0 0 1 759 994M734 969A40 40 0 0 0 721 1008M655 980A40 40 0 0 0 691 979M691 979A40 40 0 0 0 721 1008M655 980A70 70 0 0 0 721 1008M691 979A70 70 0 0 1 759 994M759 994A40 40 0 0 1 721 1008M655 980A80 80 0 0 1 734 969M706 846A120 120 0 0 1 734 969M706 846A150 150 0 0 0 721 1008M750 825A150 150 0 0 1 759 994M776 826A150 150 0 0 1 759 994M952 744A150 150 0 0 0 961 901M1010 741A150 150 0 0 1 1005 880M952 744A200 200 0 0 1 973 947M1010 741A200 200 0 0 0 973 947M726 788A60 60 0 0 1 700 754M688 811A60 60 0 0 0 726 788M840 757A60 60 0 0 1 867 762M840 757A80 80 0 0 0 853 797"/>
<path class="e eb" d="M831 553A200 200 0 0 1 987 544M831 553A150 150 0 0 0 783 435M744 437A200 200 0 0 1 831 553M683 428A200 200 0 0 1 770 355M726 435A200 200 0 0 1 825 337M518 507A200 200 0 0 1 744 437M726 435A120 120 0 0 0 683 428M783 435A150 150 0 0 1 899 417"/>
<path class="e ep" d="M818 817A100 100 0 0 1 888 857M818 817A80 80 0 0 0 734 873M818 817A80 80 0 0 1 876 880M818 817A120 120 0 0 0 711 891M818 817A80 80 0 0 0 772 885M818 817A80 80 0 0 1 808 891M818 817A80 80 0 0 1 850 883M818 817A100 100 0 0 0 744 896M818 817A120 120 0 0 1 892 902M818 817A100 100 0 0 0 787 906M818 817A100 100 0 0 1 832 903M818 817A100 100 0 0 1 862 908M818 817A150 150 0 0 0 726 915M818 817A120 120 0 0 0 758 913M818 817A120 120 0 0 1 810 920M818 817A120 120 0 0 1 842 926M818 817A150 150 0 0 1 879 928M818 817A120 120 0 0 0 776 929M818 817A150 150 0 0 0 746 936M818 817A150 150 0 0 1 821 941M818 817A150 150 0 0 0 795 944M818 817A150 150 0 0 1 860 946M818 817A150 150 0 0 0 772 954M818 817A150 150 0 0 1 839 961M818 817A150 150 0 0 0 806 967
M837 816A80 80 0 0 1 888 857M837 816A120 120 0 0 0 734 873M837 816A80 80 0 0 1 876 880M837 816A100 100 0 0 0 772 885M837 816A100 100 0 0 0 808 891M837 816A80 80 0 0 1 850 883M837 816A100 100 0 0 1 892 902M837 816A100 100 0 0 0 787 906M837 816A100 100 0 0 1 862 908M837 816A150 150 0 0 0 758 913M837 816A120 120 0 0 0 810 920M837 816A120 120 0 0 1 842 926M837 816A120 120 0 0 1 879 928M837 816A150 150 0 0 0 776 929M837 816A150 150 0 0 0 795 944M837 816A150 150 0 0 1 860 946M837 816A150 150 0 0 0 821 941M837 816A150 150 0 0 1 839 961M837 816A150 150 0 0 0 806 967M837 816A150 150 0 0 0 772 954
M720 814A80 80 0 0 1 734 873M720 814A80 80 0 0 0 711 891M720 814A100 100 0 0 1 744 896M720 814A100 100 0 0 0 726 915M720 814A100 100 0 0 1 758 913M720 814A120 120 0 0 0 746 936M720 814A150 150 0 0 1 772 954M720 814A120 120 0 0 1 776 929M720 814A100 100 0 0 1 787 906M720 814A80 80 0 0 1 772 885M720 814A100 100 0 0 1 808 891M720 814A150 150 0 0 1 806 967M720 814A100 100 0 0 1 803 831
M818 817A300 300 0 0 0 783 613M837 816A300 300 0 0 1 889 657M818 817A400 400 0 0 1 721 601M837 816A400 400 0 0 0 884 544M720 814A300 300 0 0 1 654 537M803 831A300 300 0 0 0 856 630M837 816A500 500 0 0 1 1135 588M818 817A500 500 0 0 0 1264 630
M1135 588A150 150 0 0 1 1284 590M1135 588A100 100 0 0 1 1251 600M1134 621A120 120 0 0 1 1264 630M1134 621A100 100 0 0 1 1251 600M1251 600A40 40 0 0 1 1264 630M1089 614A40 40 0 0 1 1134 621M1135 588A50 50 0 0 0 1089 614M1003 483A300 300 0 0 1 1284 590M884 544A400 400 0 0 1 1264 630M856 630A350 350 0 0 1 1251 600M1181 587A100 100 0 0 1 1284 590M1130 654A150 150 0 0 0 1264 630
M562 438A60 60 0 0 1 556 474M556 474A100 100 0 0 0 518 507M562 438A120 120 0 0 0 518 507M556 474A150 150 0 0 1 654 537M562 438A200 200 0 0 1 700 507M518 507A200 200 0 0 0 583 561"/>
</g>
<g id="nodes">
<g id="n1"><circle class="y" cx="20" cy="515" r="4"/></g>
<g id="n2"><circle class="y" cx="76" cy="509" r="4"/></g>
<g id="n3"><circle class="y" cx="16" cy="574" r="4"/></g>
<g id="n4"><circle class="y" cx="71" cy="583" r="4"/></g>
<g id="n5"><circle class="y" cx="166" cy="556" r="4.5"/><circle class="c i" cx="166" cy="556" r="2.2"/></g>
<g id="n6"><circle class="t" cx="371" cy="308" r="4"/></g>
<g id="n7"><circle class="t" cx="325" cy="319" r="4"/></g>
<g id="n8"><circle class="t" cx="391" cy="348" r="4"/></g>
<g id="n9"><circle class="t" cx="349" cy="358" r="4"/></g>
<g id="n10"><circle class="t" cx="303" cy="359" r="4"/></g>
<g id="n11"><circle class="t" cx="364" cy="398" r="4"/></g>
<g id="n12"><circle class="t" cx="318" cy="403" r="4"/></g>
<g id="n13"><circle class="y" cx="453" cy="385" r="6"/><circle class="g i" cx="453" cy="385" r="4.5"/></g>
<g id="n14"><circle class="g" cx="442" cy="284" r="4"/></g>
<g id="n15"><circle class="g" cx="482" cy="278" r="4"/></g>
<g id="n16"><circle class="g" cx="465" cy="308" r="4"/></g>
<g id="n17"><circle class="g" cx="428" cy="320" r="4"/></g>
<g id="n18"><circle class="y" cx="381" cy="260" r="4"/></g>
<g id="n19"><circle class="l" cx="538" cy="337" r="4"/></g>
<g id="n20"><circle class="g" cx="538" cy="370" r="4"/></g>
<g id="n21"><circle class="g" cx="526" cy="397" r="4"/></g>
<g id="n22"><circle class="y" cx="493" cy="411" r="4"/></g>
<g id="n23"><circle class="y h" cx="459" cy="432" r="9"/><circle class="l i" cx="459" cy="432" r="5"/></g>
<g id="n24"><circle class="c" cx="514" cy="441" r="4"/></g>
<g id="n25"><circle class="c" cx="429" cy="456" r="4"/></g>
<g id="n26"><circle class="c" cx="488" cy="464" r="4"/></g>
<g id="n27"><circle class="y" cx="353" cy="456" r="4"/></g>
<g id="n28"><circle class="y" cx="524" cy="476" r="5"/><circle class="g i" cx="524" cy="476" r="2.5"/></g>
<g id="n29"><circle class="y" cx="459" cy="484" r="5"/><circle class="c i" cx="459" cy="484" r="2.5"/></g>
<g id="n30"><circle class="c" cx="417" cy="492" r="4"/></g>
<g id="n31"><circle class="c" cx="518" cy="507" r="5"/><circle class="p i" cx="518" cy="507" r="2"/></g>
<g id="n32"><circle class="c" cx="477" cy="518" r="4"/></g>
<g id="n33"><circle class="c" cx="446" cy="525" r="4"/></g>
<g id="n34"><circle class="y" cx="534" cy="529" r="7"/><circle class="c i" cx="534" cy="529" r="5"/></g>
<g id="n35"><circle class="y" cx="325" cy="515" r="5.5"/></g>
<g id="n36"><circle class="y" cx="415" cy="527" r="5.5"/></g>
<g id="n37"><circle class="y" cx="472" cy="551" r="4"/></g>
<g id="n38"><circle class="y" cx="510" cy="561" r="5.5"/></g>
<g id="n39"><circle class="y" cx="446" cy="563" r="4"/></g>
<g id="n40"><circle class="y" cx="382" cy="561" r="4"/></g>
<g id="n41"><circle class="y" cx="303" cy="563" r="4"/></g>
<g id="n42"><circle class="y" cx="485" cy="580" r="4"/></g>
<g id="n43"><circle class="y" cx="417" cy="582" r="4"/></g>
<g id="n44"><circle class="l" cx="644" cy="154" r="4"/></g>
<g id="n45"><circle class="l" cx="598" cy="168" r="4"/></g>
<g id="n46"><circle class="l" cx="682" cy="183" r="4"/></g>
<g id="n47"><circle class="l" cx="572" cy="205" r="4"/></g>
<g id="n48"><circle class="l" cx="645" cy="216" r="4"/></g>
<g id="n49"><circle class="y" cx="607" cy="237" r="4"/></g>
<g id="n50"><circle class="y" cx="553" cy="267" r="4"/></g>
<g id="n51"><circle class="y" cx="613" cy="283" r="4"/></g>
<g id="n52"><circle class="y" cx="659" cy="284" r="4"/></g>
<g id="n53"><circle class="y" cx="580" cy="314" r="4"/></g>
<g id="n54"><circle class="y" cx="640" cy="326" r="5"/></g>
<g id="n55"><circle class="y" cx="611" cy="353" r="4"/></g>
<g id="n56"><circle class="y" cx="573" cy="366" r="4"/></g>
<g id="n57"><circle class="y" cx="639" cy="388" r="5"/><circle class="g i" cx="639" cy="388" r="2.5"/></g>
<g id="n58"><circle class="y" cx="680" cy="385" r="5"/><circle class="g i" cx="680" cy="385" r="2.5"/></g>
<g id="n59"><circle class="y" cx="696" cy="316" r="5"/><circle class="c i" cx="696" cy="316" r="2.5"/></g>
<g id="n60"><circle class="y" cx="761" cy="318" r="4.5"/><circle class="g i" cx="761" cy="318" r="2"/></g>
<g id="n61"><circle class="t" cx="685" cy="231" r="4"/></g>
<g id="n62"><circle class="y" cx="733" cy="222" r="4"/></g>
<g id="n63"><circle class="y" cx="767" cy="213" r="4"/></g>
<g id="n64"><circle class="y" cx="801" cy="221" r="4"/></g>
<g id="n65"><circle class="y" cx="715" cy="253" r="4"/></g>
<g id="n66"><circle class="y" cx="752" cy="246" r="4"/></g>
<g id="n67"><circle class="y" cx="785" cy="251" r="4"/></g>
<g id="n68"><circle class="y" cx="823" cy="245" r="4"/></g>
<g id="n69"><circle class="y" cx="718" cy="284" r="4"/></g>
<g id="n70"><circle class="y" cx="752" cy="279" r="4"/></g>
<g id="n71"><circle class="y" cx="786" cy="285" r="4"/></g>
<g id="n72"><circle class="y" cx="820" cy="274" r="4"/></g>
<g id="n73"><circle class="y h" cx="842" cy="315" r="11"/><circle class="l i" cx="842" cy="315" r="7"/><circle class="g i" cx="842" cy="315" r="2.5"/></g>
<g id="n74"><circle class="y" cx="853" cy="219" r="4"/></g>
<g id="n75"><circle class="l" cx="829" cy="33" r="4"/></g>
<g id="n76"><circle class="y" cx="877" cy="29" r="4"/></g>
<g id="n77"><circle class="l" cx="913" cy="57" r="4"/></g>
<g id="n78"><circle class="l" cx="802" cy="70" r="4"/></g>
<g id="n79"><circle class="l" cx="859" cy="73" r="4"/></g>
<g id="n80"><circle class="y" cx="911" cy="100" r="4"/></g>
<g id="n81"><circle class="y" cx="821" cy="107" r="4"/></g>
<g id="n82"><circle class="y" cx="868" cy="118" r="4"/></g>
<g id="n83"><circle class="y" cx="1070" cy="12" r="4"/></g>
<g id="n84"><circle class="l" cx="1012" cy="35" r="4"/></g>
<g id="n85"><circle class="l" cx="1086" cy="72" r="4"/></g>
<g id="n86"><circle class="y" cx="997" cy="158" r="7.5"/><circle class="l i" cx="997" cy="158" r="4"/></g>
<g id="n87"><circle class="t" cx="902" cy="201" r="4"/></g>
<g id="n88"><circle class="t" cx="953" cy="210" r="4"/></g>
<g id="n89"><circle class="t" cx="901" cy="245" r="4"/></g>
<g id="n90"><circle class="y" cx="972" cy="237" r="4"/></g>
<g id="n91"><circle class="c" cx="1015" cy="252" r="4"/></g>
<g id="n92"><circle class="c" cx="943" cy="274" r="4"/></g>
<g id="n93"><circle class="y" cx="973" cy="287" r="5"/><circle class="c i" cx="973" cy="287" r="2.5"/></g>
<g id="n94"><circle class="c" cx="1049" cy="296" r="4"/></g>
<g id="n95"><circle class="c" cx="1002" cy="312" r="4"/></g>
<g id="n96"><circle class="y h" cx="825" cy="337" r="9"/><circle class="c i" cx="825" cy="337" r="4.5"/></g>
<g id="n97"><circle class="y h" cx="940" cy="336" r="16"/><circle class="l i" cx="940" cy="336" r="10"/><circle class="g i" cx="940" cy="336" r="3.5"/></g>
<g id="n98"><circle class="g" cx="713" cy="341" r="4"/></g>
<g id="n99"><circle class="g" cx="742" cy="340" r="4"/></g>
<g id="n100"><circle class="g" cx="799" cy="345" r="4"/></g>
<g id="n101"><circle class="y" cx="865" cy="345" r="4"/></g>
<g id="n102"><circle class="y" cx="890" cy="353" r="4"/></g>
<g id="n103"><circle class="y" cx="915" cy="350" r="4"/></g>
<g id="n104"><circle class="y" cx="972" cy="343" r="4"/></g>
<g id="n105"><circle class="y" cx="770" cy="355" r="5"/><circle class="c i" cx="770" cy="355" r="2.5"/></g>
<g id="n106"><circle class="y" cx="734" cy="366" r="6"/><circle class="g i" cx="734" cy="366" r="3"/></g>
<g id="n107"><circle class="y" cx="704" cy="366" r="4"/></g>
<g id="n108"><circle class="y" cx="842" cy="367" r="5"/><circle class="g i" cx="842" cy="367" r="2.5"/></g>
<g id="n109"><circle class="y" cx="867" cy="370" r="5"/><circle class="g i" cx="867" cy="370" r="2.5"/></g>
<g id="n110"><circle class="g" cx="810" cy="376" r="4"/></g>
<g id="n111"><circle class="g" cx="783" cy="385" r="4"/></g>
<g id="n112"><circle class="g" cx="733" cy="391" r="4"/></g>
<g id="n113"><circle class="y" cx="832" cy="393" r="5"/><circle class="g i" cx="832" cy="393" r="2.5"/></g>
<g id="n114"><circle class="y" cx="943" cy="378" r="4"/></g>
<g id="n115"><circle class="y" cx="981" cy="386" r="4"/></g>
<g id="n116"><circle class="g" cx="1015" cy="358" r="4"/></g>
<g id="n117"><circle class="g" cx="1045" cy="355" r="4"/></g>
<g id="n118"><circle class="g" cx="1078" cy="369" r="4"/></g>
<g id="n119"><circle class="g" cx="712" cy="409" r="4"/></g>
<g id="n120"><circle class="y h" cx="940" cy="409" r="11"/><circle class="l i" cx="940" cy="409" r="6"/></g>
<g id="n121"><circle class="y" cx="913" cy="392" r="4"/></g>
<g id="n122"><circle class="y" cx="1025" cy="394" r="4"/></g>
<g id="n123"><circle class="t" cx="647" cy="420" r="4"/></g>
<g id="n124"><circle class="b" cx="683" cy="428" r="4"/></g>
<g id="n125"><circle class="b" cx="726" cy="435" r="4"/></g>
<g id="n126"><circle class="b" cx="744" cy="437" r="4"/></g>
<g id="n127"><circle class="b" cx="783" cy="435" r="4"/></g>
<g id="n128"><circle class="y" cx="813" cy="433" r="5.5"/><circle class="g i" cx="813" cy="433" r="3"/></g>
<g id="n129"><circle class="y" cx="852" cy="435" r="4"/></g>
<g id="n130"><circle class="g" cx="899" cy="417" r="4"/></g>
<g id="n131"><circle class="y" cx="969" cy="435" r="5"/><circle class="g i" cx="969" cy="435" r="2.5"/></g>
<g id="n132"><circle class="y h" cx="1023" cy="430" r="8.5"/><circle class="l i" cx="1023" cy="430" r="4"/></g>
<g id="n133"><circle class="t" cx="1039" cy="435" r="4"/></g>
<g id="n134"><circle class="g" cx="1072" cy="443" r="4"/></g>
<g id="n135"><circle class="p" cx="562" cy="438" r="4"/></g>
<g id="n136"><circle class="p" cx="556" cy="474" r="4"/></g>
<g id="n137"><circle class="t" cx="620" cy="453" r="4"/></g>
<g id="n138"><circle class="y" cx="659" cy="458" r="4"/></g>
<g id="n139"><circle class="y" cx="1047" cy="469" r="5"/><circle class="g i" cx="1047" cy="469" r="2.5"/></g>
<g id="n140"><circle class="y" cx="1077" cy="480" r="4"/></g>
<g id="n141"><circle class="y" cx="1003" cy="483" r="6"/><circle class="g i" cx="1003" cy="483" r="3"/><circle class="m" cx="1003" cy="483" r="8" style="stroke-width:2.8"/></g>
<g id="n142"><circle class="g" cx="1049" cy="497" r="4"/></g>
<g id="n143"><circle class="g" cx="970" cy="504" r="5"/></g>
<g id="n144"><circle class="t" cx="998" cy="517" r="4"/></g>
<g id="n145"><circle class="t" cx="1027" cy="518" r="4"/></g>
<g id="n146"><circle class="g" cx="1069" cy="515" r="4"/></g>
<g id="n147"><circle class="y h" cx="788" cy="482" r="23"/><circle class="l i" cx="788" cy="482" r="15"/><circle class="g i" cx="788" cy="482" r="8"/><circle class="c i" cx="788" cy="482" r="3.5"/></g>
<g id="n148"><circle class="y h" cx="700" cy="507" r="12"/><circle class="l i" cx="700" cy="507" r="6"/></g>
<g id="n149"><circle class="y" cx="633" cy="520" r="5"/><circle class="g i" cx="633" cy="520" r="2.5"/></g>
<g id="n150"><circle class="y" cx="586" cy="523" r="4"/></g>
<g id="n151"><circle class="y" cx="566" cy="507" r="5"/><circle class="c i" cx="566" cy="507" r="2.5"/></g>
<g id="n152"><circle class="y" cx="654" cy="537" r="10"/><circle class="g i" cx="654" cy="537" r="7"/><circle class="c i" cx="654" cy="537" r="4"/><circle class="m" cx="654" cy="537" r="11.8" style="stroke-width:3.6"/></g>
<g id="n153"><circle class="g" cx="614" cy="539" r="4"/></g>
<g id="n154"><circle class="y" cx="564" cy="546" r="4"/></g>
<g id="n155"><circle class="g" cx="672" cy="550" r="4"/></g>
<g id="n156"><circle class="y" cx="694" cy="544" r="4"/></g>
<g id="n157"><circle class="g" cx="720" cy="550" r="4"/></g>
<g id="n158"><circle class="y h" cx="884" cy="544" r="24"/><circle class="l i" cx="884" cy="544" r="15"/><circle class="g i" cx="884" cy="544" r="5"/></g>
<g id="n159"><circle class="b" cx="831" cy="553" r="4"/></g>
<g id="n160"><circle class="y" cx="987" cy="544" r="5"/><circle class="b i" cx="987" cy="544" r="2.5"/></g>
<g id="n161"><circle class="y h" cx="1025" cy="558" r="16"/><circle class="l i" cx="1025" cy="558" r="8"/></g>
<g id="n162"><circle class="c" cx="1063" cy="563" r="4"/></g>
<g id="n163"><circle class="g" cx="951" cy="556" r="4"/></g>
<g id="n164"><circle class="y" cx="903" cy="510" r="6"/></g>
<g id="n165"><circle class="y" cx="670" cy="574" r="10"/><circle class="g i" cx="670" cy="574" r="8"/><circle class="c i" cx="670" cy="574" r="4"/></g>
<g id="n166"><circle class="g" cx="618" cy="559" r="4"/></g>
<g id="n167"><circle class="y" cx="583" cy="561" r="4"/></g>
<g id="n168"><circle class="y" cx="642" cy="561" r="4"/></g>
<g id="n169"><circle class="g" cx="973" cy="576" r="4"/></g>
<g id="n170"><circle class="y" cx="1402" cy="98" r="4"/></g>
<g id="n171"><circle class="y" cx="1355" cy="109" r="4"/></g>
<g id="n172"><circle class="y" cx="1424" cy="115" r="4"/></g>
<g id="n173"><circle class="y" cx="1324" cy="127" r="4"/></g>
<g id="n174"><circle class="y" cx="1439" cy="137" r="4"/></g>
<g id="n175"><circle class="y" cx="1380" cy="140" r="4"/></g>
<g id="n176"><circle class="y" cx="1314" cy="163" r="4"/></g>
<g id="n177"><circle class="y" cx="1350" cy="159" r="4"/></g>
<g id="n178"><circle class="y" cx="1386" cy="177" r="4"/></g>
<g id="n179"><circle class="y" cx="1427" cy="178" r="4"/></g>
<g id="n180"><circle class="y" cx="1340" cy="196" r="4"/></g>
<g id="n181"><circle class="y" cx="1408" cy="208" r="4"/></g>
<g id="n182"><circle class="y" cx="1372" cy="214" r="4"/></g>
<g id="n183"><circle class="y" cx="1272" cy="254" r="6"/><circle class="g i" cx="1272" cy="254" r="1.8"/></g>
<g id="n184"><circle class="y h" cx="1315" cy="286" r="14"/><circle class="l i" cx="1315" cy="286" r="8"/><circle class="g i" cx="1315" cy="286" r="3.5"/></g>
<g id="n185"><circle class="g" cx="1426" cy="284" r="4"/></g>
<g id="n186"><circle class="g" cx="1379" cy="308" r="5"/></g>
<g id="n187"><circle class="y" cx="1429" cy="333" r="4"/></g>
<g id="n188"><circle class="y" cx="1106" cy="317" r="4"/></g>
<g id="n189"><circle class="y h" cx="1157" cy="341" r="9"/><circle class="l i" cx="1157" cy="341" r="5"/></g>
<g id="n190"><circle class="g" cx="1194" cy="387" r="5"/></g>
<g id="n191"><circle class="y" cx="1251" cy="412" r="4"/></g>
<g id="n192"><circle class="l" cx="1338" cy="404" r="4"/></g>
<g id="n193"><circle class="c" cx="1373" cy="385" r="4"/></g>
<g id="n194"><circle class="c" cx="1416" cy="373" r="4"/></g>
<g id="n195"><circle class="c" cx="1430" cy="422" r="4"/></g>
<g id="n196"><circle class="c" cx="1394" cy="435" r="4"/></g>
<g id="n197"><circle class="c" cx="1419" cy="461" r="4"/></g>
<g id="n198"><circle class="y" cx="1109" cy="416" r="4"/></g>
<g id="n199"><circle class="y" cx="1207" cy="433" r="4"/></g>
<g id="n200"><circle class="y" cx="1142" cy="441" r="4"/></g>
<g id="n201"><circle class="y" cx="1117" cy="476" r="4"/></g>
<g id="n202"><circle class="y" cx="1164" cy="501" r="6.5"/><circle class="g i" cx="1164" cy="501" r="5"/></g>
<g id="n203"><circle class="t" cx="1237" cy="489" r="4"/></g>
<g id="n204"><circle class="t" cx="1276" cy="508" r="4"/></g>
<g id="n205"><circle class="t" cx="1135" cy="526" r="4"/></g>
<g id="n206"><circle class="t" cx="1185" cy="536" r="4"/></g>
<g id="n207"><circle class="t" cx="1222" cy="533" r="4"/></g>
<g id="n208"><circle class="t" cx="1287" cy="550" r="4"/></g>
<g id="n209"><circle class="t" cx="1154" cy="563" r="4"/></g>
<g id="n210"><circle class="t" cx="1245" cy="566" r="4"/></g>
<g id="n211"><circle class="g" cx="1106" cy="571" r="4"/></g>
<g id="n212"><circle class="p" cx="1135" cy="588" r="4"/></g>
<g id="n213"><circle class="t" cx="1181" cy="587" r="4"/></g>
<g id="n214"><circle class="p" cx="1284" cy="590" r="4"/></g>
<g id="n215"><circle class="p" cx="1251" cy="600" r="4"/></g>
<g id="n216"><circle class="y" cx="1089" cy="614" r="5.5"/><circle class="g i" cx="1089" cy="614" r="3"/></g>
<g id="n217"><circle class="p" cx="1134" cy="621" r="4"/></g>
<g id="n218"><circle class="y" cx="1207" cy="618" r="5"/><circle class="t i" cx="1207" cy="618" r="2.5"/></g>
<g id="n219"><circle class="p" cx="1264" cy="630" r="4"/></g>
<g id="n220"><circle class="y" cx="1340" cy="613" r="4"/></g>
<g id="n221"><circle class="y" cx="1178" cy="642" r="5.5"/><circle class="g i" cx="1178" cy="642" r="3"/></g>
<g id="n222"><circle class="y" cx="1089" cy="657" r="5"/><circle class="t i" cx="1089" cy="657" r="2.5"/></g>
<g id="n223"><circle class="c" cx="1130" cy="654" r="4"/></g>
<g id="n224"><circle class="y" cx="1207" cy="674" r="5.5"/><circle class="c i" cx="1207" cy="674" r="2.5"/></g>
<g id="n225"><circle class="y" cx="1238" cy="671" r="4"/></g>
<g id="n226"><circle class="y" cx="1313" cy="656" r="4"/></g>
<g id="n227"><circle class="y" cx="1364" cy="666" r="4"/></g>
<g id="n228"><circle class="c" cx="1124" cy="690" r="4"/></g>
<g id="n229"><circle class="y" cx="1276" cy="695" r="4"/></g>
<g id="n230"><circle class="y" cx="1284" cy="716" r="4"/></g>
<g id="n231"><circle class="y" cx="1243" cy="722" r="4"/></g>
<g id="n232"><circle class="y" cx="1200" cy="707" r="4"/></g>
<g id="n233"><circle class="y" cx="1330" cy="710" r="4"/></g>
<g id="n234"><circle class="c" cx="1140" cy="722" r="4"/></g>
<g id="n235"><circle class="g" cx="1091" cy="724" r="4"/></g>
<g id="n236"><circle class="y" cx="1194" cy="744" r="4"/></g>
<g id="n237"><circle class="y" cx="1228" cy="765" r="4"/></g>
<g id="n238"><circle class="y" cx="1276" cy="766" r="4"/></g>
<g id="n239"><circle class="g" cx="1086" cy="752" r="4"/></g>
<g id="n240"><circle class="g" cx="1164" cy="781" r="4"/></g>
<g id="n241"><circle class="l" cx="1119" cy="799" r="4"/></g>
<g id="n242"><circle class="g" cx="1170" cy="811" r="4"/></g>
<g id="n243"><circle class="g" cx="1141" cy="825" r="4"/></g>
<g id="n244"><circle class="l" cx="1097" cy="858" r="4"/></g>
<g id="n245"><circle class="l" cx="1145" cy="860" r="4"/></g>
<g id="n246"><circle class="l" cx="1092" cy="887" r="4"/></g>
<g id="n247"><circle class="g" cx="1096" cy="936" r="4"/></g>
<g id="n248"><circle class="y" cx="301" cy="621" r="4"/></g>
<g id="n249"><circle class="y" cx="394" cy="616" r="4"/></g>
<g id="n250"><circle class="y" cx="461" cy="607" r="4"/></g>
<g id="n251"><circle class="y" cx="486" cy="610" r="5"/></g>
<g id="n252"><circle class="y" cx="515" cy="628" r="5"/></g>
<g id="n253"><circle class="y" cx="535" cy="619" r="5"/></g>
<g id="n254"><circle class="y" cx="440" cy="634" r="4"/></g>
<g id="n255"><circle class="t" cx="523" cy="650" r="4"/></g>
<g id="n256"><circle class="y" cx="494" cy="659" r="7"/><circle class="c i" cx="494" cy="659" r="5"/></g>
<g id="n257"><circle class="y" cx="464" cy="657" r="4"/></g>
<g id="n258"><circle class="y" cx="527" cy="675" r="5"/></g>
<g id="n259"><circle class="y" cx="304" cy="675" r="4"/></g>
<g id="n260"><circle class="y" cx="342" cy="672" r="4"/></g>
<g id="n261"><circle class="y" cx="369" cy="698" r="4"/></g>
<g id="n262"><circle class="y" cx="280" cy="705" r="4"/></g>
<g id="n263"><circle class="y" cx="326" cy="718" r="4"/></g>
<g id="n264"><circle class="y" cx="380" cy="733" r="4"/></g>
<g id="n265"><circle class="y" cx="283" cy="744" r="4"/></g>
<g id="n266"><circle class="y" cx="347" cy="756" r="4"/></g>
<g id="n267"><circle class="y" cx="310" cy="772" r="4"/></g>
<g id="n268"><circle class="y" cx="451" cy="701" r="4"/></g>
<g id="n269"><circle class="y" cx="493" cy="694" r="4"/></g>
<g id="n270"><circle class="y" cx="515" cy="731" r="4"/></g>
<g id="n271"><circle class="y" cx="472" cy="752" r="4"/></g>
<g id="n272"><circle class="y" cx="404" cy="775" r="4"/></g>
<g id="n273"><circle class="c" cx="510" cy="765" r="5.5"/></g>
<g id="n274"><circle class="y" cx="366" cy="796" r="5.5"/><circle class="g i" cx="366" cy="796" r="2.5"/></g>
<g id="n275"><circle class="y" cx="427" cy="817" r="4"/></g>
<g id="n276"><circle class="y" cx="472" cy="819" r="4"/></g>
<g id="n277"><circle class="y" cx="406" cy="857" r="4"/></g>
<g id="n278"><circle class="y" cx="450" cy="858" r="5.5"/></g>
<g id="n279"><circle class="y" cx="488" cy="864" r="4"/></g>
<g id="n280"><circle class="g" cx="526" cy="859" r="5.5"/></g>
<g id="n281"><circle class="g" cx="336" cy="878" r="4"/></g>
<g id="n282"><circle class="g" cx="393" cy="905" r="4"/></g>
<g id="n283"><circle class="y" cx="439" cy="899" r="4"/></g>
<g id="n284"><circle class="y" cx="486" cy="908" r="4"/></g>
<g id="n285"><circle class="g" cx="355" cy="935" r="4"/></g>
<g id="n286"><circle class="y" cx="417" cy="961" r="4"/></g>
<g id="n287"><circle class="y" cx="470" cy="982" r="4"/></g>
<g id="n288"><circle class="y" cx="541" cy="801" r="5.5"/></g>
<g id="n289"><circle class="y h" cx="721" cy="601" r="14"/><circle class="l i" cx="721" cy="601" r="9"/><circle class="g i" cx="721" cy="601" r="4"/></g>
<g id="n290"><circle class="y" cx="783" cy="613" r="12"/><circle class="g i" cx="783" cy="613" r="8"/><circle class="c i" cx="783" cy="613" r="4"/><circle class="m" cx="783" cy="613" r="14.5" style="stroke-width:4.6"/></g>
<g id="n291"><circle class="l" cx="648" cy="604" r="5.5"/><circle class="g i" cx="648" cy="604" r="3"/></g>
<g id="n292"><circle class="y" cx="561" cy="608" r="4"/></g>
<g id="n293"><circle class="y" cx="593" cy="615" r="4"/></g>
<g id="n294"><circle class="g" cx="681" cy="619" r="5"/></g>
<g id="n295"><circle class="t" cx="634" cy="624" r="6"/></g>
<g id="n296"><circle class="y" cx="573" cy="636" r="4"/></g>
<g id="n297"><circle class="t" cx="601" cy="639" r="4"/></g>
<g id="n298"><circle class="y" cx="662" cy="628" r="4"/></g>
<g id="n299"><circle class="y" cx="548" cy="647" r="4"/></g>
<g id="n300"><circle class="y" cx="737" cy="639" r="4"/></g>
<g id="n301"><circle class="y" cx="814" cy="644" r="5"/></g>
<g id="n302"><circle class="y h" cx="856" cy="630" r="19"/><circle class="l i" cx="856" cy="630" r="11"/></g>
<g id="n303"><circle class="y" cx="889" cy="657" r="5"/><circle class="p i" cx="889" cy="657" r="2"/></g>
<g id="n304"><circle class="c" cx="958" cy="647" r="4"/></g>
<g id="n305"><circle class="g" cx="981" cy="651" r="4"/></g>
<g id="n306"><circle class="y h" cx="1006" cy="643" r="12"/><circle class="l i" cx="1006" cy="643" r="6"/></g>
<g id="n307"><circle class="c" cx="1030" cy="647" r="4"/></g>
<g id="n308"><circle class="g" cx="1004" cy="671" r="4"/></g>
<g id="n309"><circle class="y h" cx="808" cy="664" r="18"/><circle class="l i" cx="808" cy="664" r="10"/><circle class="g i" cx="808" cy="664" r="3"/></g>
<g id="n310"><circle class="y" cx="706" cy="673" r="4"/></g>
<g id="n311"><circle class="y" cx="632" cy="667" r="4"/></g>
<g id="n312"><circle class="c" cx="548" cy="692" r="4"/></g>
<g id="n313"><circle class="y" cx="901" cy="687" r="6"/></g>
<g id="n314"><circle class="y" cx="939" cy="686" r="4"/></g>
<g id="n315"><circle class="y" cx="1075" cy="690" r="4"/></g>
<g id="n316"><circle class="y h" cx="723" cy="708" r="11"/><circle class="l i" cx="723" cy="708" r="5"/></g>
<g id="n317"><circle class="y" cx="576" cy="716" r="5.5"/></g>
<g id="n318"><circle class="y" cx="613" cy="705" r="4"/></g>
<g id="n319"><circle class="y" cx="643" cy="699" r="4"/></g>
<g id="n320"><circle class="y" cx="665" cy="716" r="4"/></g>
<g id="n321"><circle class="t" cx="696" cy="712" r="4"/></g>
<g id="n322"><circle class="t" cx="751" cy="718" r="4"/></g>
<g id="n323"><circle class="y h" cx="877" cy="721" r="10"/><circle class="l i" cx="877" cy="721" r="5"/></g>
<g id="n324"><circle class="y" cx="967" cy="711" r="4"/></g>
<g id="n325"><circle class="y" cx="1043" cy="718" r="4.5"/><circle class="t i" cx="1043" cy="718" r="2.5"/></g>
<g id="n326"><circle class="y" cx="559" cy="734" r="8"/><circle class="c i" cx="559" cy="734" r="4.5"/></g>
<g id="n327"><circle class="g" cx="600" cy="730" r="4"/></g>
<g id="n328"><circle class="t" cx="634" cy="723" r="5"/></g>
<g id="n329"><circle class="g" cx="920" cy="741" r="4"/></g>
<g id="n330"><circle class="c" cx="952" cy="744" r="4"/></g>
<g id="n331"><circle class="c" cx="1010" cy="741" r="4"/></g>
<g id="n332"><circle class="g" cx="1047" cy="748" r="4"/></g>
<g id="n333"><circle class="y" cx="600" cy="747" r="5"/><circle class="g i" cx="600" cy="747" r="2.5"/></g>
<g id="n334"><circle class="g" cx="645" cy="754" r="4"/></g>
<g id="n335"><circle class="t" cx="700" cy="754" r="5.5"/></g>
<g id="n336"><circle class="t" cx="729" cy="759" r="4"/></g>
<g id="n337"><circle class="g" cx="759" cy="759" r="4"/></g>
<g id="n338"><circle class="g" cx="793" cy="759" r="4"/></g>
<g id="n339"><circle class="g" cx="813" cy="744" r="4"/></g>
<g id="n340"><circle class="y" cx="840" cy="757" r="9"/><circle class="t i" cx="840" cy="757" r="7"/><circle class="c i" cx="840" cy="757" r="4"/><circle class="p i" cx="840" cy="757" r="1.5"/></g>
<g id="n341"><circle class="c" cx="867" cy="762" r="4"/></g>
<g id="n342"><circle class="g" cx="901" cy="763" r="4"/></g>
<g id="n343"><circle class="g" cx="973" cy="763" r="4"/></g>
<g id="n344"><circle class="y" cx="934" cy="772" r="5"/><circle class="c i" cx="934" cy="772" r="2.5"/></g>
<g id="n345"><circle class="g" cx="1055" cy="780" r="4"/></g>
<g id="n346"><circle class="y" cx="1023" cy="790" r="4"/></g>
<g id="n347"><circle class="y" cx="560" cy="774" r="4"/></g>
<g id="n348"><circle class="y" cx="596" cy="784" r="4"/></g>
<g id="n349"><circle class="g" cx="624" cy="770" r="4"/></g>
<g id="n350"><circle class="g" cx="649" cy="778" r="4"/></g>
<g id="n351"><circle class="g" cx="670" cy="766" r="4"/></g>
<g id="n352"><circle class="y" cx="767" cy="785" r="9"/><circle class="l i" cx="767" cy="785" r="5.5"/><circle class="g i" cx="767" cy="785" r="3"/></g>
<g id="n353"><circle class="y" cx="816" cy="777" r="4"/></g>
<g id="n354"><circle class="c" cx="726" cy="788" r="4"/></g>
<g id="n355"><circle class="y" cx="790" cy="797" r="6.5"/><circle class="g i" cx="790" cy="797" r="4"/></g>
<g id="n356"><circle class="t" cx="853" cy="797" r="5.5"/></g>
<g id="n357"><circle class="y" cx="883" cy="794" r="5.5"/><circle class="g i" cx="883" cy="794" r="3"/></g>
<g id="n358"><circle class="y" cx="972" cy="797" r="8"/><circle class="g i" cx="972" cy="797" r="3.5"/></g>
<g id="n359"><circle class="l" cx="1073" cy="817" r="4"/></g>
<g id="n360"><circle class="y" cx="588" cy="808" r="4"/></g>
<g id="n361"><circle class="y" cx="624" cy="814" r="4"/></g>
<g id="n362"><circle class="y" cx="656" cy="808" r="8"/></g>
<g id="n363"><circle class="c" cx="688" cy="811" r="4"/></g>
<g id="n364"><circle class="y" cx="720" cy="814" r="8.5"/><circle class="l i" cx="720" cy="814" r="6"/><circle class="g i" cx="720" cy="814" r="3"/><circle class="m" cx="720" cy="814" r="11" style="stroke-width:3.8"/></g>
<g id="n365"><circle class="c" cx="818" cy="817" r="6"/><circle class="p i" cx="818" cy="817" r="2.5"/></g>
<g id="n366"><circle class="g" cx="837" cy="816" r="6"/><circle class="p i" cx="837" cy="816" r="2.5"/></g>
<g id="n367"><circle class="g" cx="750" cy="825" r="4"/></g>
<g id="n368"><circle class="g" cx="776" cy="826" r="4"/></g>
<g id="n369"><circle class="p" cx="803" cy="831" r="4"/></g>
<g id="n370"><circle class="y" cx="932" cy="807" r="5.5"/><circle class="g i" cx="932" cy="807" r="3"/></g>
<g id="n371"><circle class="y" cx="1018" cy="839" r="4"/></g>
<g id="n372"><circle class="g" cx="980" cy="832" r="4"/></g>
<g id="n373"><circle class="g" cx="924" cy="840" r="4"/></g>
<g id="n374"><circle class="g" cx="951" cy="851" r="4"/></g>
<g id="n375"><circle class="g" cx="975" cy="863" r="4"/></g>
<g id="n376"><circle class="l" cx="1064" cy="867" r="4"/></g>
<g id="n377"><circle class="y" cx="556" cy="827" r="4"/></g>
<g id="n378"><circle class="y h" cx="706" cy="846" r="11"/></g>
<g id="n379"><circle class="y" cx="555" cy="870" r="5.5"/></g>
<g id="n380"><circle class="y" cx="626" cy="863" r="4"/></g>
<g id="n381"><circle class="l" cx="680" cy="863" r="4"/></g>
<g id="n382"><circle class="g" cx="761" cy="849" r="4"/></g>
<g id="n383"><circle class="g" cx="787" cy="849" r="4"/></g>
<g id="n384"><circle class="g" cx="812" cy="856" r="4"/></g>
<g id="n385"><circle class="g" cx="837" cy="847" r="4"/></g>
<g id="n386"><circle class="y" cx="653" cy="883" r="4"/></g>
<g id="n387"><circle class="p" cx="888" cy="857" r="4"/></g>
<g id="n388"><circle class="p" cx="734" cy="873" r="4"/></g>
<g id="n389"><circle class="p" cx="876" cy="880" r="4"/></g>
<g id="n390"><circle class="p" cx="711" cy="891" r="4"/></g>
<g id="n391"><circle class="p" cx="772" cy="885" r="4"/></g>
<g id="n392"><circle class="p" cx="808" cy="891" r="4"/></g>
<g id="n393"><circle class="p" cx="850" cy="883" r="4"/></g>
<g id="n394"><circle class="p" cx="744" cy="896" r="4"/></g>
<g id="n395"><circle class="p" cx="892" cy="902" r="4"/></g>
<g id="n396"><circle class="p" cx="787" cy="906" r="4"/></g>
<g id="n397"><circle class="p" cx="832" cy="903" r="4"/></g>
<g id="n398"><circle class="p" cx="862" cy="908" r="4"/></g>
<g id="n399"><circle class="p" cx="726" cy="915" r="4"/></g>
<g id="n400"><circle class="p" cx="758" cy="913" r="4"/></g>
<g id="n401"><circle class="p" cx="810" cy="920" r="4"/></g>
<g id="n402"><circle class="p" cx="842" cy="926" r="4"/></g>
<g id="n403"><circle class="p" cx="879" cy="928" r="4"/></g>
<g id="n404"><circle class="p" cx="776" cy="929" r="4"/></g>
<g id="n405"><circle class="p" cx="746" cy="936" r="4"/></g>
<g id="n406"><circle class="p" cx="821" cy="941" r="4"/></g>
<g id="n407"><circle class="p" cx="795" cy="944" r="4"/></g>
<g id="n408"><circle class="p" cx="860" cy="946" r="4"/></g>
<g id="n409"><circle class="p" cx="772" cy="954" r="4"/></g>
<g id="n410"><circle class="p" cx="839" cy="961" r="4"/></g>
<g id="n411"><circle class="p" cx="806" cy="967" r="4"/></g>
<g id="n412"><circle class="g" cx="586" cy="905" r="4"/></g>
<g id="n413"><circle class="g" cx="617" cy="903" r="4"/></g>
<g id="n414"><circle class="g" cx="562" cy="920" r="4"/></g>
<g id="n415"><circle class="g" cx="605" cy="928" r="4"/></g>
<g id="n416"><circle class="g" cx="638" cy="921" r="4"/></g>
<g id="n417"><circle class="g" cx="585" cy="943" r="4"/></g>
<g id="n418"><circle class="g" cx="624" cy="947" r="4"/></g>
<g id="n419"><circle class="t" cx="670" cy="939" r="4"/></g>
<g id="n420"><circle class="t" cx="702" cy="936" r="4"/></g>
<g id="n421"><circle class="t" cx="734" cy="969" r="4"/></g>
<g id="n422"><circle class="t" cx="655" cy="980" r="4"/></g>
<g id="n423"><circle class="t" cx="691" cy="979" r="4"/></g>
<g id="n424"><circle class="t" cx="759" cy="994" r="4"/></g>
<g id="n425"><circle class="t" cx="721" cy="1008" r="4"/></g>
<g id="n426"><circle class="y" cx="593" cy="983" r="6"/><circle class="g i" cx="593" cy="983" r="2.5"/></g>
<g id="n427"><circle class="g" cx="935" cy="879" r="4"/></g>
<g id="n428"><circle class="c" cx="1005" cy="880" r="4"/></g>
<g id="n429"><circle class="c" cx="961" cy="901" r="4"/></g>
<g id="n430"><circle class="g" cx="1030" cy="908" r="4"/></g>
<g id="n431"><circle class="g" cx="1005" cy="928" r="4"/></g>
<g id="n432"><circle class="y h" cx="927" cy="936" r="13"/><circle class="l i" cx="927" cy="936" r="7"/><circle class="c i" cx="927" cy="936" r="1.8"/></g>
<g id="n433"><circle class="c" cx="973" cy="947" r="4"/></g>
</g>
<g id="labels">
<text class="lb" x="1071" y="285.5" font-size="14.8" textLength="491" lengthAdjust="spacingAndGlyphs">COMPUTER-AIDED CIVIL AND INFRASTRUCTURE ENGINEERING</text>
<text class="lb" x="689" y="335" font-size="16.5" textLength="507" lengthAdjust="spacingAndGlyphs">JOURNAL OF COMPUTATIONAL DESIGN AND ENGINEERING</text>
<text class="lb" x="733" y="408" font-size="16.2" textLength="419" lengthAdjust="spacingAndGlyphs">JOURNAL OF INTELLIGENT &amp; ROBOTIC SYSTEMS</text>
<text class="lb" x="302" y="431" font-size="13.5" textLength="318" lengthAdjust="spacingAndGlyphs">JOURNAL OF MANAGEMENT IN ENGINEERING</text>
<text class="lb" x="806" y="431" font-size="14" textLength="436" lengthAdjust="spacingAndGlyphs">INTERNATIONAL JOURNAL OF CONSTRUCTION MANAGEMENT</text>
<text class="lb" x="636" y="452.2" font-size="12.4" textLength="297" lengthAdjust="spacingAndGlyphs">COMPUTERS &amp; INDUSTRIAL ENGINEERING</text>
<text class="lb" x="676" y="464.6" font-size="11.8" textLength="432" lengthAdjust="spacingAndGlyphs">ENGINEERING CONSTRUCTION AND ARCHITECTURAL MANAGEMENT</text>
<text class="lb" x="594" y="488.8" font-size="21.8" textLength="386" lengthAdjust="spacingAndGlyphs">AUTOMATION IN CONSTRUCTION</text>
<text class="lb" x="527" y="507" font-size="16" textLength="353" lengthAdjust="spacingAndGlyphs">LECTURE NOTES IN COMPUTER SCIENCE</text>
<text class="lb" x="703" y="521" font-size="13.9" textLength="217" lengthAdjust="spacingAndGlyphs">ENGINEERING COMPUTATIONS</text>
<text class="lb" x="663" y="541.8" font-size="21.5" textLength="447" lengthAdjust="spacingAndGlyphs">ADVANCED ENGINEERING INFORMATICS</text>
<text class="lb" x="976" y="559" font-size="16" textLength="94" lengthAdjust="spacingAndGlyphs">BUILDINGS</text>
<text class="lb" x="748" y="573" font-size="16.5" textLength="257" lengthAdjust="spacingAndGlyphs">BUILDING AND ENVIRONMENT</text>
<text class="lb" x="493" y="595.3" font-size="16.9" textLength="462" lengthAdjust="spacingAndGlyphs">JOURNAL OF COMPUTING IN CIVIL ENGINEERING</text>
<text class="lb" x="751" y="609.4" font-size="14.5" textLength="322" lengthAdjust="spacingAndGlyphs">JOURNAL OF THE STRUCTURAL DIVISION</text>
<text class="lb" x="689" y="629.3" font-size="15.6" textLength="337" lengthAdjust="spacingAndGlyphs">EXPERT SYSTEMS WITH APPLICATIONS</text>
<text class="lb" x="913" y="643.6" font-size="14.2" textLength="196" lengthAdjust="spacingAndGlyphs">PROCEDIA ENGINEERING</text>
<text class="lb" x="505" y="671" font-size="18.7" textLength="610" lengthAdjust="spacingAndGlyphs">JOURNAL OF CONSTRUCTION ENGINEERING AND MANAGEMENT</text>
<text class="lb" x="550" y="692.6" font-size="15.3" textLength="357" lengthAdjust="spacingAndGlyphs">JOURNAL OF ARCHITECTURAL ENGINEERING</text>
<text class="lb" x="704" y="705.4" font-size="11.8" textLength="38" lengthAdjust="spacingAndGlyphs">ARXIV</text>
<text class="lb" x="751" y="709" font-size="13.7" textLength="435" lengthAdjust="spacingAndGlyphs">JOURNAL OF INFORMATION TECHNOLOGY IN CONSTRUCTION</text>
<text class="lb" x="624" y="735.7" font-size="12.9" textLength="312" lengthAdjust="spacingAndGlyphs">CONSTRUCTION MANAGEMENT AND ECONOMICS</text>
<text class="lb" x="528" y="845.5" font-size="15" textLength="359" lengthAdjust="spacingAndGlyphs">DEVELOPMENTS IN THE BUILT ENVIRONMENT</text>
</g>
<g id="legend">
<rect x="50.5" y="761.4" width="59.2" height="12.7" fill="#c6e84c"/>
<rect x="50.5" y="774" width="59.2" height="12.7" fill="#aeea4e"/>
<rect x="50.5" y="786.5" width="59.2" height="12.7" fill="#78e84c"/>
<rect x="50.5" y="799.1" width="59.2" height="12.7" fill="#00e83c"/>
<rect x="50.5" y="811.6" width="59.2" height="12.7" fill="#00e040"/>
<rect x="50.5" y="824.2" width="59.2" height="12.7" fill="#00d85a"/>
<rect x="50.5" y="836.8" width="59.2" height="12.7" fill="#00d07a"/>
<rect x="50.5" y="849.3" width="59.2" height="12.7" fill="#00bfa0"/>
<rect x="50.5" y="861.9" width="59.2" height="12.7" fill="#00b0b8"/>
<rect x="50.5" y="874.4" width="59.2" height="12.7" fill="#00a4d8"/>
<rect x="50.5" y="887" width="59.2" height="12.7" fill="#2e8ef0"/>
<rect x="50.5" y="899.6" width="59.2" height="12.7" fill="#5a7cff"/>
<rect x="50.5" y="912.1" width="59.2" height="12.7" fill="#7460ff"/>
<rect x="50.5" y="924.7" width="59.2" height="12.7" fill="#8c44ec"/>
<rect x="50.5" y="937.2" width="59.2" height="12.7" fill="#a02ad0"/>
<rect x="50.5" y="949.8" width="59.2" height="12.6" fill="#a000b4"/>
<text class="lg" x="80" y="769.9" textLength="17" lengthAdjust="spacingAndGlyphs">2023</text>
<text class="lg" x="80" y="782.5" textLength="17" lengthAdjust="spacingAndGlyphs">2022</text>
<text class="lg" x="80" y="795" textLength="17" lengthAdjust="spacingAndGlyphs">2021</text>
<text class="lg" x="80" y="807.6" textLength="17" lengthAdjust="spacingAndGlyphs">2020</text>
<text class="lg" x="80" y="820.1" textLength="17" lengthAdjust="spacingAndGlyphs">2019</text>
<text class="lg" x="80" y="832.7" textLength="17" lengthAdjust="spacingAndGlyphs">2018</text>
<text class="lg" x="80" y="845.3" textLength="17" lengthAdjust="spacingAndGlyphs">2017</text>
<text class="lg" x="80" y="857.8" textLength="17" lengthAdjust="spacingAndGlyphs">2016</text>
<text class="lg" x="80" y="870.4" textLength="17" lengthAdjust="spacingAndGlyphs">2015</text>
<text class="lg" x="80" y="882.9" textLength="17" lengthAdjust="spacingAndGlyphs">2014</text>
<text class="lg" x="80" y="895.5" textLength="17" lengthAdjust="spacingAndGlyphs">2013</text>
<text class="lg" x="80" y="908.1" textLength="17" lengthAdjust="spacingAndGlyphs">2012</text>
<text class="lg" x="80" y="920.6" textLength="17" lengthAdjust="spacingAndGlyphs">2011</text>
<text class="lg" x="80" y="933.2" textLength="17" lengthAdjust="spacingAndGlyphs">2010</text>
<text class="lg" x="80" y="945.7" textLength="17" lengthAdjust="spacingAndGlyphs">2009</text>
<text class="lg" x="80" y="958.3" textLength="17" lengthAdjust="spacingAndGlyphs">2008</text>
</g>
</g>
</svg>
